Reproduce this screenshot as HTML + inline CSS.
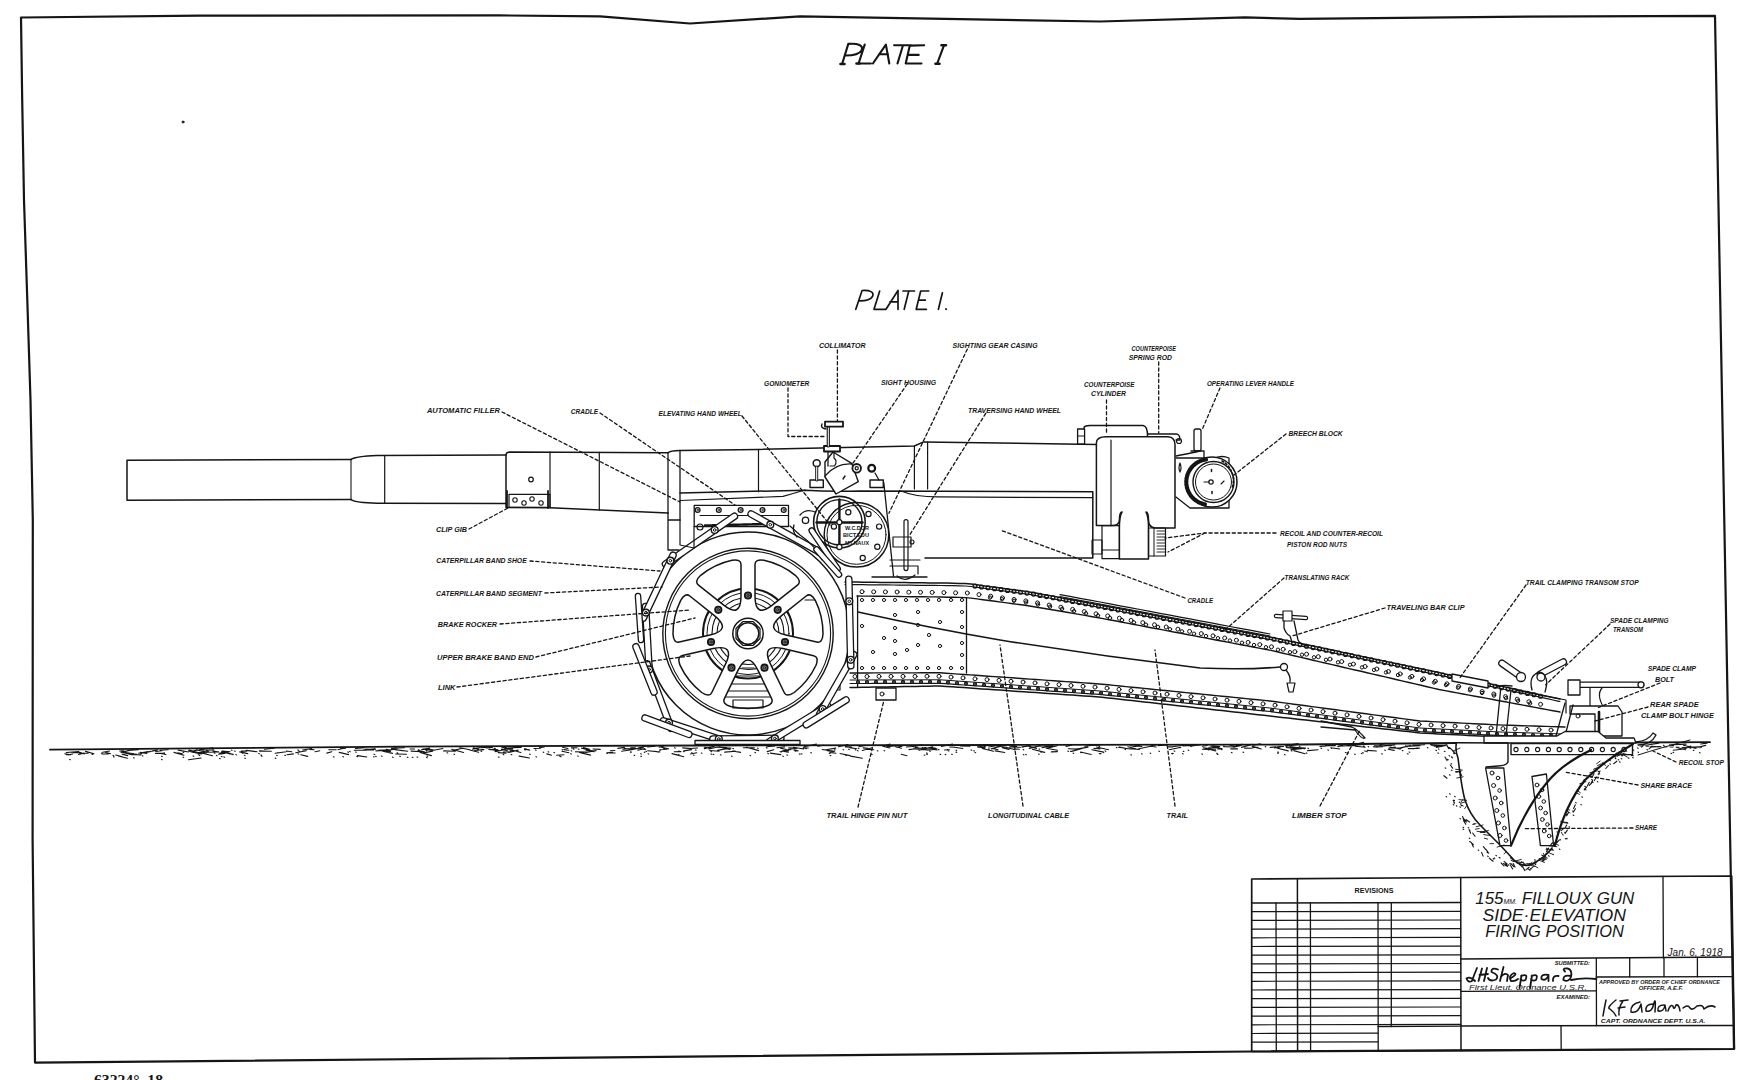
<!DOCTYPE html>
<html><head><meta charset="utf-8"><title>155mm Filloux Gun - Side Elevation</title>
<style>
html,body{margin:0;padding:0;background:#fff;width:1756px;height:1080px;overflow:hidden}
svg{display:block}
svg text{font-family:"Liberation Sans",sans-serif}
.label{font-weight:bold;font-style:italic}
.plate{font-style:italic}
.serif{font-family:"Liberation Serif",serif !important;font-weight:bold}
</style></head><body>
<svg width="1756" height="1080" viewBox="0 0 1756 1080">
<g stroke="#151515" stroke-linecap="round" stroke-linejoin="round" fill="none">
<polyline points="21,17.5 200,15.7 500,15.4 600,16.4 690,23.5 800,16.4 1100,21.5 1245,17.4 1300,18.8 1500,16.8 1715,15.8 1734,1049 1252,1051.5 35,1062.6 32.6,840 32.8,520 30.5,400 27.3,300 24,200 22.2,100 21,17.5" stroke-width="2.2" fill="none" />
<circle cx="183" cy="122" r="1" stroke-width="1.0" fill="#333" />
<path d="M842.2,63.7 L848.3,43.9 C858,43 864,45.5 861.5,50.5 Q858.5,55.5 845.6,55.5 M864.7,44.6 L858.6,63.5 L870.9,63.5 M872.9,63.5 L885.9,44.6 L889.3,63.5 M879,54.2 L888,54.2 M894.1,45.3 L911.2,45.3 M903,45.3 L897.5,63.5 M924.2,45.3 L909.8,45.6 L905.7,63.5 L921.5,63.5 M907.8,54.9 L918.7,54.9 M944,45.3 L937.2,63.5" stroke-width="2.1" fill="none" />
<path d="M840.5,64 L844.5,64 M856.5,63.5 L859.5,63.5 M935.5,63.8 L939.5,63.8 M941.5,45.3 L946,45.3" stroke-width="2.6" fill="none" />
<path d="M855.8,309.3 L862.1,290.5 C870,290 874.5,292 872.5,296.5 Q870,300.8 859.8,300.8 M879.7,291 L874,309.3 L885.4,309.3 M886,309.3 L898,290.5 L898,309.3 M890,301.9 L898,301.9 M903,291 L914.5,291 M908.8,291 L904.2,309.3 M928.7,291 L920.7,291 L916.2,309.3 L926.4,309.3 M918.5,300.2 L925.3,300.2 M942.4,292.8 L938.4,309.3 M945.8,309 L946.3,309.3" stroke-width="1.7" fill="none" />
<text x="94" y="1085" class="serif" font-size="15" stroke="none" fill="#151515" textLength="69" lengthAdjust="spacingAndGlyphs" >63224°–18</text>
<path d="M351,459.5 L127,460.3 L127,500.2 L351,499.6" stroke-width="1.5" fill="none" />
<path d="M351,459.5 Q356,456.2 377,455.5 L506,455 M351,499.6 Q356,502.8 377,503.2 L506,503.6" stroke-width="1.5" fill="none" />
<line x1="351" y1="459.5" x2="351" y2="499.6" stroke-width="1.1" />
<line x1="384.7" y1="455.5" x2="384.7" y2="503.2" stroke-width="1.2" />
<path d="M506,503.6 L506,455 Q506,452 510,451.9 L668,452.8" stroke-width="1.5" fill="none" />
<path d="M506,503.6 L506,507.6 L550,507.8 L668,513" stroke-width="1.5" fill="none" />
<line x1="550" y1="452" x2="550" y2="507.8" stroke-width="1.2" />
<line x1="599.3" y1="452.4" x2="599.3" y2="510" stroke-width="1.2" />
<line x1="668" y1="452.8" x2="668" y2="513" stroke-width="1.3" />
<rect x="509" y="494.3" width="41" height="13" rx="0" stroke-width="1.2" fill="none" />
<line x1="507" y1="491" x2="507" y2="508" stroke-width="1.8" />
<line x1="548" y1="491" x2="548" y2="508" stroke-width="1.8" />
<circle cx="515" cy="500" r="2.2" stroke-width="1.1" fill="none" />
<circle cx="524" cy="503" r="2.2" stroke-width="1.1" fill="none" />
<circle cx="532" cy="499" r="2.2" stroke-width="1.1" fill="none" />
<circle cx="541" cy="503" r="2.2" stroke-width="1.1" fill="none" />
<circle cx="531" cy="479.5" r="2.3" stroke-width="1.2" fill="none" />
<path d="M668,452.8 Q670,450.5 680,450.4 L758,449.4 L914.4,446 L923.5,441.9 L1096.4,444.4" stroke-width="1.5" fill="none" />
<line x1="680" y1="450.4" x2="680" y2="520" stroke-width="1.3" />
<line x1="758.5" y1="449.4" x2="758.5" y2="491.8" stroke-width="1.2" />
<line x1="914.4" y1="446" x2="914.4" y2="489" stroke-width="1.2" />
<line x1="927.6" y1="442" x2="927.6" y2="489" stroke-width="1.2" />
<path d="M680,493 L805,490.2 Q830,492 860,491 L1092.8,491.8 L1092.8,558 L925,558" stroke-width="1.5" fill="none" />
<path d="M901,491 Q915,496.9 937.8,496.9 L1092.8,497.7" stroke-width="1.3" fill="none" />
<path d="M668,513 L668,550 L679,550 M668,520 L680,520" stroke-width="1.3" fill="none" />
<rect x="694.2" y="505.3" width="94.3" height="21.2" rx="0" stroke-width="1.3" fill="none" />
<line x1="700" y1="515.5" x2="788" y2="515.5" stroke-width="1.1" />
<circle cx="697.6" cy="510" r="2.4" stroke-width="1.3" fill="none" />
<circle cx="697.6" cy="510" r="0.8" stroke-width="0.8" fill="none" />
<circle cx="718.8" cy="510" r="2.4" stroke-width="1.3" fill="none" />
<circle cx="718.8" cy="510" r="0.8" stroke-width="0.8" fill="none" />
<circle cx="740.6" cy="510" r="2.4" stroke-width="1.3" fill="none" />
<circle cx="740.6" cy="510" r="0.8" stroke-width="0.8" fill="none" />
<circle cx="762.5" cy="510" r="2.4" stroke-width="1.3" fill="none" />
<circle cx="762.5" cy="510" r="0.8" stroke-width="0.8" fill="none" />
<circle cx="783.7" cy="510" r="2.4" stroke-width="1.3" fill="none" />
<circle cx="783.7" cy="510" r="0.8" stroke-width="0.8" fill="none" />
<line x1="705" y1="525.5" x2="765" y2="524" stroke-width="2.4" stroke-dasharray="3 1"/>
<circle cx="700" cy="527" r="3" stroke-width="1.2" fill="none" />
<path d="M1084,444 L1084,428 Q1084,425.6 1090,425.6 L1143,425.6 Q1147.6,426 1147.6,436.7" stroke-width="1.5" fill="none" />
<rect x="1077.6" y="429" width="7" height="15" rx="0" stroke-width="1.3" fill="#fff" />
<line x1="1078" y1="436" x2="1084" y2="436" stroke-width="1.1" />
<path d="M1147.6,434 L1176,434 Q1180,434 1180,440 L1176,440" stroke-width="1.3" fill="none" />
<circle cx="1179" cy="441" r="2.5" stroke-width="1.2" fill="none" />
<path d="M1096.4,525.6 L1096.4,443 Q1096.4,436.7 1106,436.7 L1168,436.7 Q1175,437 1175,445 L1175,528 L1156,528 Q1148.5,528 1148.5,520 Q1148.5,512 1146,512 Q1148.5,516 1148.5,528 L1148.5,559 L1119.4,559 L1119.4,528 Q1119.4,516 1122,512 Q1119.4,512 1119.4,520 Q1119,525.6 1112,525.6 Z" stroke-width="1.5" fill="#fff" />
<line x1="1111" y1="440" x2="1111" y2="525.6" stroke-width="1.2" />
<rect x="1102" y="525.6" width="17.4" height="33" rx="0" stroke-width="1.2" fill="none" />
<line x1="1102" y1="550" x2="1119.4" y2="550" stroke-width="1.1" />
<rect x="1092" y="540" width="10" height="14" rx="0" stroke-width="1.1" fill="none" />
<rect x="1148.5" y="528" width="17" height="28" rx="0" stroke-width="1.2" fill="none" />
<line x1="1157" y1="531" x2="1165" y2="531" stroke-width="0.9" />
<line x1="1157" y1="534" x2="1165" y2="534" stroke-width="0.9" />
<line x1="1157" y1="537" x2="1165" y2="537" stroke-width="0.9" />
<line x1="1157" y1="540" x2="1165" y2="540" stroke-width="0.9" />
<line x1="1157" y1="543" x2="1165" y2="543" stroke-width="0.9" />
<line x1="1157" y1="546" x2="1165" y2="546" stroke-width="0.9" />
<line x1="1157" y1="549" x2="1165" y2="549" stroke-width="0.9" />
<line x1="1157" y1="552" x2="1165" y2="552" stroke-width="0.9" />
<line x1="1154" y1="528" x2="1154" y2="556" stroke-width="1" />
<path d="M1176,458 L1215,458 Q1222,455 1229,458 L1229,508 L1190,508 L1176,497" stroke-width="1.3" fill="none" />
<path d="M1176,456 Q1196,452 1200,451" stroke-width="1.3" fill="none" />
<circle cx="1212" cy="482" r="25" stroke-width="1.5" fill="#fff" />
<circle cx="1213.5" cy="482" r="20.5" stroke-width="1.4" fill="none" />
<circle cx="1213.5" cy="482" r="18" stroke-width="1.0" fill="none" />
<path d="M1206,459.5 A22.7,22.7 0 0,0 1206,504.5" stroke-width="4.2" fill="none" stroke-dasharray="1.8 1.3"/>
<path d="M1222,461 A22,22 0 0,1 1232,488" stroke-width="1.6" fill="none" stroke-dasharray="2 2"/>
<circle cx="1211" cy="482" r="2.2" stroke-width="1.2" fill="none" />
<line x1="1204" y1="482" x2="1209" y2="482" stroke-width="1.1" />
<line x1="1211.5" y1="469.5" x2="1211.5" y2="471.5" stroke-width="1.5" />
<line x1="1212" y1="491.5" x2="1212" y2="493.5" stroke-width="1.5" />
<line x1="1221" y1="484" x2="1224" y2="481" stroke-width="1.1" />
<path d="M1180,463 Q1178,468 1180,472 Q1182,468 1180,463" stroke-width="1.2" fill="none" />
<rect x="1194" y="429" width="7" height="22" rx="2" stroke-width="1.3" fill="none" />
<path d="M1191,451 L1204,451 L1204,458" stroke-width="1.3" fill="none" />
<polyline points="845,582 851,582.1 857,582.1 863,582.2 869,582.3 875,582.3 881,582.4 887,582.4 893,582.5 899,582.6 905,582.6 911,582.7 917,582.8 923,582.8 929,582.9 935,582.9 941,583 947,583.1 953,583.2 959,583.4 965,583.5 971,584 977,584.8 983,585.7 989,586.5 995,587.3 1001,588.1 1007,588.9 1013,589.7 1019,590.5 1025,591.3 1031,592.2 1037,593.3 1043,594.4 1049,595.5 1055,596.6 1061,597.8 1067,598.9 1073,600 1079,601.1 1085,602.2 1091,603.3 1097,604.4 1103,605.6 1109,606.7 1115,607.8 1121,609 1127,610.1 1133,611.2 1139,612.3 1145,613.5 1151,614.6 1157,615.7 1163,616.9 1169,618 1175,619.1 1181,620.2 1187,621.4 1193,622.5 1199,623.6 1205,624.8 1211,625.9 1217,627 1223,628.2 1229,629.3 1235,630.4 1241,631.5 1247,632.7 1253,633.8 1259,634.9 1265,636.1 1271,637.2 1277,638.5 1283,639.7 1289,641 1295,642.3 1301,643.5 1307,644.8 1313,646.1 1319,647.3 1325,648.6 1331,649.8 1337,651.1 1343,652.4 1349,653.6 1355,654.9 1361,656.2 1367,657.4 1373,658.7 1379,660 1385,661.2 1391,662.5 1397,663.7 1403,665 1409,666.3 1415,667.5 1421,668.8 1427,670.1 1433,671.3 1439,672.6 1445,673.9 1451,675.2 1457,676.5 1463,677.8 1469,679.1 1475,680.4 1481,681.8 1487,683.1 1493,684.4 1499,685.7 1505,687 1511,688.3 1517,689.6 1523,690.9 1529,692.2 1535,693.5 1541,694.9 1547,696.2 1553,697.5 1559,698.8 1560,699" stroke-width="1.5" fill="none" />
<polyline points="845,584.5 851,584.6 857,584.6 863,584.7 869,584.8 875,584.8 881,584.9 887,584.9 893,585 899,585.1 905,585.1 911,585.2 917,585.3 923,585.3 929,585.4 935,585.4 941,585.5 947,585.6 953,585.7 959,585.9 965,586 971,586.5 977,587.3 983,588.2 989,589 995,589.8 1001,590.6 1007,591.4 1013,592.2 1019,593 1025,593.8 1031,594.7 1037,595.8 1043,596.9 1049,598 1055,599.1 1061,600.3 1067,601.4 1073,602.5 1079,603.6 1085,604.7 1091,605.8 1097,606.9 1103,608.1 1109,609.2 1115,610.3 1121,611.5 1127,612.6 1133,613.7 1139,614.8 1145,616 1151,617.1 1157,618.2 1163,619.4 1169,620.5 1175,621.6 1181,622.7 1187,623.9 1193,625 1199,626.1 1205,627.3 1211,628.4 1217,629.5 1223,630.7 1229,631.8 1235,632.9 1241,634 1247,635.2 1253,636.3 1259,637.4 1265,638.6 1271,639.7 1277,641 1283,642.2 1289,643.5 1295,644.8 1301,646 1307,647.3 1313,648.6 1319,649.8 1325,651.1 1331,652.3 1337,653.6 1343,654.9 1349,656.1 1355,657.4 1361,658.7 1367,659.9 1373,661.2 1379,662.5 1385,663.7 1391,665 1397,666.2 1403,667.5 1409,668.8 1415,670 1421,671.3 1427,672.6 1433,673.8 1439,675.1 1445,676.4 1451,677.7 1457,679 1463,680.3 1469,681.6 1475,682.9 1481,684.3 1487,685.6 1493,686.9 1499,688.2 1505,689.5 1511,690.8 1517,692.1 1523,693.4 1529,694.7 1535,696 1541,697.4 1547,698.7 1553,700 1559,701.3 1560,701.5" stroke-width="1.2" fill="none" />
<polyline points="857,596 863,596.1 869,596.1 875,596.2 881,596.3 887,596.4 893,596.4 899,596.5 905,596.6 911,596.7 917,596.7 923,596.8 929,596.9 935,596.9 941,597 947,597.2 953,597.3 959,597.4 965,597.6 971,598.1 977,598.9 983,599.7 989,600.5 995,601.3 1001,602.1 1007,602.9 1013,603.7 1019,604.5 1025,605.3 1031,606.2 1037,607.2 1043,608.2 1049,609.3 1055,610.3 1061,611.3 1067,612.3 1073,613.4 1079,614.4 1085,615.4 1091,616.5 1097,617.5 1103,618.6 1109,619.7 1115,620.8 1121,622 1127,623.1 1133,624.3 1139,625.4 1145,626.5 1151,627.7 1157,628.8 1163,629.9 1169,631.1 1175,632.2 1181,633.3 1187,634.5 1193,635.6 1199,636.8 1205,637.9 1211,639 1217,640.2 1223,641.3 1229,642.4 1235,643.6 1241,644.7 1247,645.8 1253,647 1259,648.1 1265,649.3 1271,650.4 1277,651.8 1283,653.2 1289,654.6 1295,656 1301,657.4 1307,658.8 1313,660.2 1319,661.6 1325,663 1331,664.4 1337,665.8 1343,667.2 1349,668.6 1355,670 1361,671.3 1367,672.7 1373,674.1 1379,675.5 1385,676.9 1391,678.3 1397,679.7 1403,681.1 1409,682.5 1415,683.9 1421,685.3 1427,686.7 1433,688.1 1439,689.5 1445,690.6 1451,691.7 1457,692.9 1463,694 1469,695.1 1475,696.2 1481,697.3 1487,698.4 1493,699.5 1499,700.7 1505,701.8 1511,702.9 1517,704 1523,705.1 1529,706.2 1535,707.4 1541,708.5 1547,709.6 1553,710.7 1559,711.8 1560,712" stroke-width="1.4" fill="none" />
<polyline points="850,673 856,673 862,673 868,673 874,672.9 880,672.9 886,672.9 892,672.9 898,672.9 904,672.9 910,672.9 916,672.9 922,672.8 928,672.8 934,672.8 940,672.8 946,673.2 952,673.6 958,674.1 964,674.5 970,674.9 976,675.3 982,675.7 988,676.2 994,676.6 1000,677 1006,677.4 1012,677.8 1018,678.3 1024,678.7 1030,679.1 1036,679.5 1042,679.9 1048,680.4 1054,680.8 1060,681.2 1066,681.6 1072,682 1078,682.5 1084,682.9 1090,683.3 1096,683.7 1102,684.2 1108,684.8 1114,685.4 1120,686 1126,686.6 1132,687.2 1138,687.8 1144,688.4 1150,689 1156,689.6 1162,690.2 1168,690.8 1174,691.4 1180,692 1186,692.6 1192,693.2 1198,693.8 1204,694.4 1210,695 1216,695.6 1222,696.2 1228,696.8 1234,697.4 1240,698 1246,698.6 1252,699.2 1258,699.8 1264,700.4 1270,701 1276,701.8 1282,702.6 1288,703.4 1294,704.2 1300,705 1306,705.8 1312,706.6 1318,707.4 1324,708.2 1330,709 1336,709.8 1342,710.6 1348,711.4 1354,712.2 1360,713 1366,713.8 1372,714.6 1378,715.4 1384,716.2 1390,717 1396,717.8 1402,718.6 1408,719.4 1414,720.2 1420,721 1426,721.3 1432,721.6 1438,721.9 1444,722.2 1450,722.5 1456,722.8 1462,723.1 1468,723.4 1474,723.7 1480,724 1486,724.3 1492,724.6 1498,724.9 1504,725.1 1510,725.3 1516,725.5 1522,725.7 1528,725.9 1534,726 1540,726.2 1546,726.4 1552,726.6 1558,726.8 1564,727 1565,727" stroke-width="1.4" fill="none" />
<polyline points="850,687.5 856,687.4 862,687.3 868,687.2 874,687.1 880,687 886,686.9 892,686.8 898,686.7 904,686.6 910,686.5 916,686.4 922,686.3 928,686.2 934,686.1 940,686 946,686.4 952,686.8 958,687.2 964,687.6 970,688.1 976,688.5 982,688.9 988,689.3 994,689.7 1000,690.1 1006,690.5 1012,691 1018,691.4 1024,691.8 1030,692.2 1036,692.6 1042,693 1048,693.4 1054,693.8 1060,694.2 1066,694.7 1072,695.1 1078,695.5 1084,695.9 1090,696.3 1096,696.7 1102,697.2 1108,697.9 1114,698.6 1120,699.2 1126,699.9 1132,700.6 1138,701.2 1144,701.9 1150,702.6 1156,703.3 1162,703.9 1168,704.6 1174,705.3 1180,705.9 1186,706.6 1192,707.3 1198,708 1204,708.6 1210,709.3 1216,710 1222,710.6 1228,711.3 1234,712 1240,712.6 1246,713.3 1252,714 1258,714.7 1264,715.3 1270,716 1276,716.7 1282,717.4 1288,718 1294,718.7 1300,719.4 1306,720.1 1312,720.8 1318,721.4 1324,722.1 1330,722.8 1336,723.5 1342,724.2 1348,724.8 1354,725.5 1360,726.2 1366,726.9 1372,727.6 1378,728.2 1384,728.9 1390,729.6 1396,730.3 1402,731 1408,731.6 1414,732.3 1420,733 1426,733.3 1432,733.6 1438,733.9 1444,734.2 1450,734.5 1456,734.8 1462,735.1 1468,735.4 1474,735.7 1480,736 1486,736.3 1492,736.6 1498,736.9 1504,737.1 1510,737.3 1516,737.5 1522,737.7 1528,737.9 1534,738 1540,738.2 1546,738.4 1552,738.6 1558,738.8 1564,739 1565,739" stroke-width="1.5" fill="none" />
<line x1="966.5" y1="597.6" x2="966.5" y2="673" stroke-width="1.3" />
<line x1="857.6" y1="596" x2="857.6" y2="687" stroke-width="1.3" />
<circle cx="862" cy="600" r="1.6" stroke-width="1.0" fill="none" />
<circle cx="873" cy="600" r="1.6" stroke-width="1.0" fill="none" />
<circle cx="884" cy="600" r="1.6" stroke-width="1.0" fill="none" />
<circle cx="895" cy="600" r="1.6" stroke-width="1.0" fill="none" />
<circle cx="906" cy="600" r="1.6" stroke-width="1.0" fill="none" />
<circle cx="917" cy="600" r="1.6" stroke-width="1.0" fill="none" />
<circle cx="928" cy="600" r="1.6" stroke-width="1.0" fill="none" />
<circle cx="939" cy="600" r="1.6" stroke-width="1.0" fill="none" />
<circle cx="951" cy="600" r="1.6" stroke-width="1.0" fill="none" />
<circle cx="962" cy="600" r="1.6" stroke-width="1.0" fill="none" />
<circle cx="862" cy="668" r="1.6" stroke-width="1.0" fill="none" />
<circle cx="873" cy="668" r="1.6" stroke-width="1.0" fill="none" />
<circle cx="884" cy="668" r="1.6" stroke-width="1.0" fill="none" />
<circle cx="895" cy="668" r="1.6" stroke-width="1.0" fill="none" />
<circle cx="906" cy="668" r="1.6" stroke-width="1.0" fill="none" />
<circle cx="917" cy="668" r="1.6" stroke-width="1.0" fill="none" />
<circle cx="928" cy="668" r="1.6" stroke-width="1.0" fill="none" />
<circle cx="939" cy="668" r="1.6" stroke-width="1.0" fill="none" />
<circle cx="951" cy="668" r="1.6" stroke-width="1.0" fill="none" />
<circle cx="962" cy="668" r="1.6" stroke-width="1.0" fill="none" />
<circle cx="895" cy="615" r="1.6" stroke-width="1.0" fill="none" />
<circle cx="895" cy="628" r="1.6" stroke-width="1.0" fill="none" />
<circle cx="895" cy="641" r="1.6" stroke-width="1.0" fill="none" />
<circle cx="895" cy="654" r="1.6" stroke-width="1.0" fill="none" />
<circle cx="918" cy="612" r="1.6" stroke-width="1.0" fill="none" />
<circle cx="918" cy="625" r="1.6" stroke-width="1.0" fill="none" />
<circle cx="918" cy="645" r="1.6" stroke-width="1.0" fill="none" />
<circle cx="940" cy="622" r="1.6" stroke-width="1.0" fill="none" />
<circle cx="940" cy="646" r="1.6" stroke-width="1.0" fill="none" />
<circle cx="962" cy="612" r="1.6" stroke-width="1.0" fill="none" />
<circle cx="962" cy="627" r="1.6" stroke-width="1.0" fill="none" />
<circle cx="962" cy="643" r="1.6" stroke-width="1.0" fill="none" />
<circle cx="962" cy="655" r="1.6" stroke-width="1.0" fill="none" />
<circle cx="862" cy="626" r="1.6" stroke-width="1.0" fill="none" />
<circle cx="873" cy="652" r="1.6" stroke-width="1.0" fill="none" />
<circle cx="884" cy="638" r="1.6" stroke-width="1.0" fill="none" />
<circle cx="907" cy="650" r="1.6" stroke-width="1.0" fill="none" />
<circle cx="929" cy="635" r="1.6" stroke-width="1.0" fill="none" />
<circle cx="862" cy="591.7" r="2" stroke-width="1.0" fill="none" />
<circle cx="873.7" cy="591.8" r="2" stroke-width="1.0" fill="none" />
<circle cx="885.4" cy="591.9" r="2" stroke-width="1.0" fill="none" />
<circle cx="897.1" cy="592" r="2" stroke-width="1.0" fill="none" />
<circle cx="908.8" cy="592.2" r="2" stroke-width="1.0" fill="none" />
<circle cx="920.5" cy="592.3" r="2" stroke-width="1.0" fill="none" />
<circle cx="932.2" cy="592.4" r="2" stroke-width="1.0" fill="none" />
<circle cx="943.9" cy="592.6" r="2" stroke-width="1.0" fill="none" />
<circle cx="955.6" cy="592.8" r="2" stroke-width="1.0" fill="none" />
<circle cx="967.3" cy="593" r="2" stroke-width="1.0" fill="none" />
<circle cx="979" cy="594.6" r="2" stroke-width="1.0" fill="none" />
<circle cx="990.7" cy="596.2" r="2" stroke-width="1.0" fill="none" />
<circle cx="1002.4" cy="597.8" r="2" stroke-width="1.0" fill="none" />
<circle cx="1014.1" cy="599.4" r="2" stroke-width="1.0" fill="none" />
<circle cx="1025.8" cy="600.9" r="2" stroke-width="1.0" fill="none" />
<circle cx="1037.5" cy="602.9" r="2" stroke-width="1.0" fill="none" />
<circle cx="1049.2" cy="605.1" r="2" stroke-width="1.0" fill="none" />
<circle cx="1060.9" cy="607.2" r="2" stroke-width="1.0" fill="none" />
<circle cx="1072.6" cy="609.4" r="2" stroke-width="1.0" fill="none" />
<circle cx="1084.3" cy="611.6" r="2" stroke-width="1.0" fill="none" />
<circle cx="1096" cy="613.8" r="2" stroke-width="1.0" fill="none" />
<circle cx="1107.7" cy="615.9" r="2" stroke-width="1.0" fill="none" />
<circle cx="1119.4" cy="618.2" r="2" stroke-width="1.0" fill="none" />
<circle cx="1131.1" cy="620.4" r="2" stroke-width="1.0" fill="none" />
<circle cx="1142.8" cy="622.6" r="2" stroke-width="1.0" fill="none" />
<circle cx="1154.5" cy="624.8" r="2" stroke-width="1.0" fill="none" />
<circle cx="1166.2" cy="627" r="2" stroke-width="1.0" fill="none" />
<circle cx="1177.9" cy="629.2" r="2" stroke-width="1.0" fill="none" />
<circle cx="1189.6" cy="631.4" r="2" stroke-width="1.0" fill="none" />
<circle cx="1201.3" cy="633.6" r="2" stroke-width="1.0" fill="none" />
<circle cx="1213" cy="635.8" r="2" stroke-width="1.0" fill="none" />
<circle cx="1224.7" cy="638" r="2" stroke-width="1.0" fill="none" />
<circle cx="1236.4" cy="640.2" r="2" stroke-width="1.0" fill="none" />
<circle cx="1248.1" cy="642.4" r="2" stroke-width="1.0" fill="none" />
<circle cx="1259.8" cy="644.6" r="2" stroke-width="1.0" fill="none" />
<circle cx="1271.5" cy="646.8" r="2" stroke-width="1.0" fill="none" />
<circle cx="1283.2" cy="649.3" r="2" stroke-width="1.0" fill="none" />
<circle cx="1294.9" cy="651.7" r="2" stroke-width="1.0" fill="none" />
<circle cx="1306.6" cy="654.2" r="2" stroke-width="1.0" fill="none" />
<circle cx="1318.3" cy="656.7" r="2" stroke-width="1.0" fill="none" />
<circle cx="1330" cy="659.1" r="2" stroke-width="1.0" fill="none" />
<circle cx="1341.7" cy="661.6" r="2" stroke-width="1.0" fill="none" />
<circle cx="1353.4" cy="664.1" r="2" stroke-width="1.0" fill="none" />
<circle cx="1365.1" cy="666.5" r="2" stroke-width="1.0" fill="none" />
<circle cx="1376.8" cy="669" r="2" stroke-width="1.0" fill="none" />
<circle cx="1388.5" cy="671.5" r="2" stroke-width="1.0" fill="none" />
<circle cx="1400.2" cy="673.9" r="2" stroke-width="1.0" fill="none" />
<circle cx="1411.9" cy="676.4" r="2" stroke-width="1.0" fill="none" />
<circle cx="1423.6" cy="678.8" r="2" stroke-width="1.0" fill="none" />
<circle cx="1435.3" cy="681.3" r="2" stroke-width="1.0" fill="none" />
<circle cx="1447" cy="683.8" r="2" stroke-width="1.0" fill="none" />
<circle cx="1458.7" cy="686.4" r="2" stroke-width="1.0" fill="none" />
<circle cx="1470.4" cy="688.9" r="2" stroke-width="1.0" fill="none" />
<circle cx="1482.1" cy="691.5" r="2" stroke-width="1.0" fill="none" />
<circle cx="1493.8" cy="694" r="2" stroke-width="1.0" fill="none" />
<circle cx="1505.5" cy="696.6" r="2" stroke-width="1.0" fill="none" />
<circle cx="1517.2" cy="699.2" r="2" stroke-width="1.0" fill="none" />
<circle cx="1528.9" cy="701.7" r="2" stroke-width="1.0" fill="none" />
<circle cx="1540.6" cy="704.3" r="2" stroke-width="1.0" fill="none" />
<circle cx="990" cy="597.6" r="1.7" stroke-width="1.0" fill="none" />
<circle cx="1002" cy="599.2" r="1.7" stroke-width="1.0" fill="none" />
<circle cx="1014" cy="600.8" r="1.7" stroke-width="1.0" fill="none" />
<circle cx="1026" cy="602.5" r="1.7" stroke-width="1.0" fill="none" />
<circle cx="1038" cy="604.5" r="1.7" stroke-width="1.0" fill="none" />
<circle cx="1050" cy="606.7" r="1.7" stroke-width="1.0" fill="none" />
<circle cx="1062" cy="608.9" r="1.7" stroke-width="1.0" fill="none" />
<circle cx="1074" cy="611.2" r="1.7" stroke-width="1.0" fill="none" />
<circle cx="1086" cy="613.4" r="1.7" stroke-width="1.0" fill="none" />
<circle cx="1098" cy="615.6" r="1.7" stroke-width="1.0" fill="none" />
<circle cx="1110" cy="617.9" r="1.7" stroke-width="1.0" fill="none" />
<circle cx="1122" cy="620.1" r="1.7" stroke-width="1.0" fill="none" />
<circle cx="1134" cy="622.4" r="1.7" stroke-width="1.0" fill="none" />
<circle cx="1146" cy="624.7" r="1.7" stroke-width="1.0" fill="none" />
<circle cx="1158" cy="626.9" r="1.7" stroke-width="1.0" fill="none" />
<circle cx="1170" cy="629.2" r="1.7" stroke-width="1.0" fill="none" />
<circle cx="1182" cy="631.4" r="1.7" stroke-width="1.0" fill="none" />
<circle cx="1194" cy="633.7" r="1.7" stroke-width="1.0" fill="none" />
<circle cx="1206" cy="636" r="1.7" stroke-width="1.0" fill="none" />
<circle cx="1218" cy="638.2" r="1.7" stroke-width="1.0" fill="none" />
<circle cx="1230" cy="640.5" r="1.7" stroke-width="1.0" fill="none" />
<circle cx="1242" cy="642.7" r="1.7" stroke-width="1.0" fill="none" />
<circle cx="1254" cy="645" r="1.7" stroke-width="1.0" fill="none" />
<circle cx="1266" cy="647.2" r="1.7" stroke-width="1.0" fill="none" />
<circle cx="1278" cy="649.7" r="1.7" stroke-width="1.0" fill="none" />
<circle cx="1290" cy="652.2" r="1.7" stroke-width="1.0" fill="none" />
<circle cx="1302" cy="654.7" r="1.7" stroke-width="1.0" fill="none" />
<circle cx="1314" cy="657.3" r="1.7" stroke-width="1.0" fill="none" />
<circle cx="1326" cy="659.8" r="1.7" stroke-width="1.0" fill="none" />
<circle cx="1338" cy="662.3" r="1.7" stroke-width="1.0" fill="none" />
<circle cx="1350" cy="664.8" r="1.7" stroke-width="1.0" fill="none" />
<circle cx="1362" cy="667.4" r="1.7" stroke-width="1.0" fill="none" />
<circle cx="1374" cy="669.9" r="1.7" stroke-width="1.0" fill="none" />
<circle cx="1386" cy="672.4" r="1.7" stroke-width="1.0" fill="none" />
<circle cx="1398" cy="675" r="1.7" stroke-width="1.0" fill="none" />
<circle cx="1410" cy="677.5" r="1.7" stroke-width="1.0" fill="none" />
<circle cx="1422" cy="680" r="1.7" stroke-width="1.0" fill="none" />
<circle cx="1434" cy="682.5" r="1.7" stroke-width="1.0" fill="none" />
<circle cx="1446" cy="685.1" r="1.7" stroke-width="1.0" fill="none" />
<circle cx="1458" cy="687.7" r="1.7" stroke-width="1.0" fill="none" />
<circle cx="1470" cy="690.3" r="1.7" stroke-width="1.0" fill="none" />
<circle cx="1482" cy="693" r="1.7" stroke-width="1.0" fill="none" />
<circle cx="1494" cy="695.6" r="1.7" stroke-width="1.0" fill="none" />
<circle cx="1506" cy="698.2" r="1.7" stroke-width="1.0" fill="none" />
<circle cx="1518" cy="700.8" r="1.7" stroke-width="1.0" fill="none" />
<circle cx="1530" cy="703.5" r="1.7" stroke-width="1.0" fill="none" />
<circle cx="975" cy="586.1" r="1.9" stroke-width="1.3" fill="none" />
<circle cx="981.5" cy="587" r="1.9" stroke-width="1.3" fill="none" />
<circle cx="988" cy="587.8" r="1.9" stroke-width="1.3" fill="none" />
<circle cx="994.5" cy="588.7" r="1.9" stroke-width="1.3" fill="none" />
<circle cx="1001" cy="589.6" r="1.9" stroke-width="1.3" fill="none" />
<circle cx="1007.5" cy="590.5" r="1.9" stroke-width="1.3" fill="none" />
<circle cx="1014" cy="591.3" r="1.9" stroke-width="1.3" fill="none" />
<circle cx="1020.5" cy="592.2" r="1.9" stroke-width="1.3" fill="none" />
<circle cx="1027" cy="593.1" r="1.9" stroke-width="1.3" fill="none" />
<circle cx="1033.5" cy="594.1" r="1.9" stroke-width="1.3" fill="none" />
<circle cx="1040" cy="595.4" r="1.9" stroke-width="1.3" fill="none" />
<circle cx="1046.5" cy="596.6" r="1.9" stroke-width="1.3" fill="none" />
<circle cx="1053" cy="597.8" r="1.9" stroke-width="1.3" fill="none" />
<circle cx="1059.5" cy="599" r="1.9" stroke-width="1.3" fill="none" />
<circle cx="1066" cy="600.2" r="1.9" stroke-width="1.3" fill="none" />
<circle cx="1072.5" cy="601.4" r="1.9" stroke-width="1.3" fill="none" />
<circle cx="1079" cy="602.6" r="1.9" stroke-width="1.3" fill="none" />
<circle cx="1085.5" cy="603.8" r="1.9" stroke-width="1.3" fill="none" />
<circle cx="1092" cy="605" r="1.9" stroke-width="1.3" fill="none" />
<circle cx="1098.5" cy="606.2" r="1.9" stroke-width="1.3" fill="none" />
<circle cx="1105" cy="607.4" r="1.9" stroke-width="1.3" fill="none" />
<circle cx="1111.5" cy="608.7" r="1.9" stroke-width="1.3" fill="none" />
<circle cx="1118" cy="609.9" r="1.9" stroke-width="1.3" fill="none" />
<circle cx="1124.5" cy="611.1" r="1.9" stroke-width="1.3" fill="none" />
<circle cx="1131" cy="612.3" r="1.9" stroke-width="1.3" fill="none" />
<circle cx="1137.5" cy="613.6" r="1.9" stroke-width="1.3" fill="none" />
<circle cx="1144" cy="614.8" r="1.9" stroke-width="1.3" fill="none" />
<circle cx="1150.5" cy="616" r="1.9" stroke-width="1.3" fill="none" />
<circle cx="1157" cy="617.2" r="1.9" stroke-width="1.3" fill="none" />
<circle cx="1163.5" cy="618.5" r="1.9" stroke-width="1.3" fill="none" />
<circle cx="1170" cy="619.7" r="1.9" stroke-width="1.3" fill="none" />
<circle cx="1176.5" cy="620.9" r="1.9" stroke-width="1.3" fill="none" />
<circle cx="1183" cy="622.1" r="1.9" stroke-width="1.3" fill="none" />
<circle cx="1189.5" cy="623.3" r="1.9" stroke-width="1.3" fill="none" />
<circle cx="1196" cy="624.6" r="1.9" stroke-width="1.3" fill="none" />
<circle cx="1202.5" cy="625.8" r="1.9" stroke-width="1.3" fill="none" />
<circle cx="1209" cy="627" r="1.9" stroke-width="1.3" fill="none" />
<circle cx="1215.5" cy="628.2" r="1.9" stroke-width="1.3" fill="none" />
<circle cx="1222" cy="629.5" r="1.9" stroke-width="1.3" fill="none" />
<circle cx="1228.5" cy="630.7" r="1.9" stroke-width="1.3" fill="none" />
<circle cx="1235" cy="631.9" r="1.9" stroke-width="1.3" fill="none" />
<circle cx="1241.5" cy="633.1" r="1.9" stroke-width="1.3" fill="none" />
<circle cx="1248" cy="634.4" r="1.9" stroke-width="1.3" fill="none" />
<circle cx="1254.5" cy="635.6" r="1.9" stroke-width="1.3" fill="none" />
<circle cx="1261" cy="636.8" r="1.9" stroke-width="1.3" fill="none" />
<circle cx="1267.5" cy="638" r="1.9" stroke-width="1.3" fill="none" />
<circle cx="1274" cy="639.3" r="1.9" stroke-width="1.3" fill="none" />
<circle cx="1280.5" cy="640.7" r="1.9" stroke-width="1.3" fill="none" />
<circle cx="1287" cy="642.1" r="1.9" stroke-width="1.3" fill="none" />
<circle cx="1293.5" cy="643.4" r="1.9" stroke-width="1.3" fill="none" />
<circle cx="1300" cy="644.8" r="1.9" stroke-width="1.3" fill="none" />
<circle cx="1306.5" cy="646.2" r="1.9" stroke-width="1.3" fill="none" />
<circle cx="1313" cy="647.6" r="1.9" stroke-width="1.3" fill="none" />
<circle cx="1319.5" cy="648.9" r="1.9" stroke-width="1.3" fill="none" />
<circle cx="1326" cy="650.3" r="1.9" stroke-width="1.3" fill="none" />
<circle cx="1332.5" cy="651.7" r="1.9" stroke-width="1.3" fill="none" />
<circle cx="1339" cy="653" r="1.9" stroke-width="1.3" fill="none" />
<circle cx="1345.5" cy="654.4" r="1.9" stroke-width="1.3" fill="none" />
<circle cx="1352" cy="655.8" r="1.9" stroke-width="1.3" fill="none" />
<circle cx="1358.5" cy="657.1" r="1.9" stroke-width="1.3" fill="none" />
<circle cx="1365" cy="658.5" r="1.9" stroke-width="1.3" fill="none" />
<circle cx="1371.5" cy="659.9" r="1.9" stroke-width="1.3" fill="none" />
<circle cx="1378" cy="661.2" r="1.9" stroke-width="1.3" fill="none" />
<circle cx="1384.5" cy="662.6" r="1.9" stroke-width="1.3" fill="none" />
<circle cx="1391" cy="664" r="1.9" stroke-width="1.3" fill="none" />
<circle cx="1397.5" cy="665.3" r="1.9" stroke-width="1.3" fill="none" />
<circle cx="1404" cy="666.7" r="1.9" stroke-width="1.3" fill="none" />
<circle cx="1410.5" cy="668.1" r="1.9" stroke-width="1.3" fill="none" />
<circle cx="1417" cy="669.5" r="1.9" stroke-width="1.3" fill="none" />
<circle cx="1423.5" cy="670.8" r="1.9" stroke-width="1.3" fill="none" />
<circle cx="1430" cy="672.2" r="1.9" stroke-width="1.3" fill="none" />
<circle cx="1436.5" cy="673.6" r="1.9" stroke-width="1.3" fill="none" />
<circle cx="1443" cy="675" r="1.9" stroke-width="1.3" fill="none" />
<circle cx="1449.5" cy="676.4" r="1.9" stroke-width="1.3" fill="none" />
<circle cx="1456" cy="677.8" r="1.9" stroke-width="1.3" fill="none" />
<circle cx="1462.5" cy="679.2" r="1.9" stroke-width="1.3" fill="none" />
<circle cx="1469" cy="680.6" r="1.9" stroke-width="1.3" fill="none" />
<circle cx="1475.5" cy="682.1" r="1.9" stroke-width="1.3" fill="none" />
<circle cx="1482" cy="683.5" r="1.9" stroke-width="1.3" fill="none" />
<circle cx="1488.5" cy="684.9" r="1.9" stroke-width="1.3" fill="none" />
<circle cx="1495" cy="686.3" r="1.9" stroke-width="1.3" fill="none" />
<circle cx="1501.5" cy="687.7" r="1.9" stroke-width="1.3" fill="none" />
<circle cx="1508" cy="689.1" r="1.9" stroke-width="1.3" fill="none" />
<circle cx="1514.5" cy="690.6" r="1.9" stroke-width="1.3" fill="none" />
<circle cx="1521" cy="692" r="1.9" stroke-width="1.3" fill="none" />
<circle cx="1527.5" cy="693.4" r="1.9" stroke-width="1.3" fill="none" />
<circle cx="1534" cy="694.8" r="1.9" stroke-width="1.3" fill="none" />
<circle cx="1540.5" cy="696.2" r="1.9" stroke-width="1.3" fill="none" />
<circle cx="855" cy="676.5" r="2" stroke-width="1.0" fill="none" />
<circle cx="867" cy="676.5" r="2" stroke-width="1.0" fill="none" />
<circle cx="879" cy="676.4" r="2" stroke-width="1.0" fill="none" />
<circle cx="891" cy="676.4" r="2" stroke-width="1.0" fill="none" />
<circle cx="903" cy="676.4" r="2" stroke-width="1.0" fill="none" />
<circle cx="915" cy="676.4" r="2" stroke-width="1.0" fill="none" />
<circle cx="927" cy="676.3" r="2" stroke-width="1.0" fill="none" />
<circle cx="939" cy="676.3" r="2" stroke-width="1.0" fill="none" />
<circle cx="951" cy="677.1" r="2" stroke-width="1.0" fill="none" />
<circle cx="963" cy="677.9" r="2" stroke-width="1.0" fill="none" />
<circle cx="975" cy="678.8" r="2" stroke-width="1.0" fill="none" />
<circle cx="987" cy="679.6" r="2" stroke-width="1.0" fill="none" />
<circle cx="999" cy="680.4" r="2" stroke-width="1.0" fill="none" />
<circle cx="1011" cy="681.3" r="2" stroke-width="1.0" fill="none" />
<circle cx="1023" cy="682.1" r="2" stroke-width="1.0" fill="none" />
<circle cx="1035" cy="682.9" r="2" stroke-width="1.0" fill="none" />
<circle cx="1047" cy="683.8" r="2" stroke-width="1.0" fill="none" />
<circle cx="1059" cy="684.6" r="2" stroke-width="1.0" fill="none" />
<circle cx="1071" cy="685.5" r="2" stroke-width="1.0" fill="none" />
<circle cx="1083" cy="686.3" r="2" stroke-width="1.0" fill="none" />
<circle cx="1095" cy="687.1" r="2" stroke-width="1.0" fill="none" />
<circle cx="1107" cy="688.2" r="2" stroke-width="1.0" fill="none" />
<circle cx="1119" cy="689.4" r="2" stroke-width="1.0" fill="none" />
<circle cx="1131" cy="690.6" r="2" stroke-width="1.0" fill="none" />
<circle cx="1143" cy="691.8" r="2" stroke-width="1.0" fill="none" />
<circle cx="1155" cy="693" r="2" stroke-width="1.0" fill="none" />
<circle cx="1167" cy="694.2" r="2" stroke-width="1.0" fill="none" />
<circle cx="1179" cy="695.4" r="2" stroke-width="1.0" fill="none" />
<circle cx="1191" cy="696.6" r="2" stroke-width="1.0" fill="none" />
<circle cx="1203" cy="697.8" r="2" stroke-width="1.0" fill="none" />
<circle cx="1215" cy="699" r="2" stroke-width="1.0" fill="none" />
<circle cx="1227" cy="700.2" r="2" stroke-width="1.0" fill="none" />
<circle cx="1239" cy="701.4" r="2" stroke-width="1.0" fill="none" />
<circle cx="1251" cy="702.6" r="2" stroke-width="1.0" fill="none" />
<circle cx="1263" cy="703.8" r="2" stroke-width="1.0" fill="none" />
<circle cx="1275" cy="705.2" r="2" stroke-width="1.0" fill="none" />
<circle cx="1287" cy="706.8" r="2" stroke-width="1.0" fill="none" />
<circle cx="1299" cy="708.4" r="2" stroke-width="1.0" fill="none" />
<circle cx="1311" cy="710" r="2" stroke-width="1.0" fill="none" />
<circle cx="1323" cy="711.6" r="2" stroke-width="1.0" fill="none" />
<circle cx="1335" cy="713.2" r="2" stroke-width="1.0" fill="none" />
<circle cx="1347" cy="714.8" r="2" stroke-width="1.0" fill="none" />
<circle cx="1359" cy="716.4" r="2" stroke-width="1.0" fill="none" />
<circle cx="1371" cy="718" r="2" stroke-width="1.0" fill="none" />
<circle cx="1383" cy="719.6" r="2" stroke-width="1.0" fill="none" />
<circle cx="1395" cy="721.2" r="2" stroke-width="1.0" fill="none" />
<circle cx="1407" cy="722.8" r="2" stroke-width="1.0" fill="none" />
<circle cx="1419" cy="724.4" r="2" stroke-width="1.0" fill="none" />
<circle cx="1431" cy="725" r="2" stroke-width="1.0" fill="none" />
<circle cx="1443" cy="725.6" r="2" stroke-width="1.0" fill="none" />
<circle cx="1455" cy="726.2" r="2" stroke-width="1.0" fill="none" />
<circle cx="1467" cy="726.9" r="2" stroke-width="1.0" fill="none" />
<circle cx="1479" cy="727.5" r="2" stroke-width="1.0" fill="none" />
<circle cx="1491" cy="728" r="2" stroke-width="1.0" fill="none" />
<circle cx="1503" cy="728.6" r="2" stroke-width="1.0" fill="none" />
<circle cx="1515" cy="729" r="2" stroke-width="1.0" fill="none" />
<circle cx="1527" cy="729.3" r="2" stroke-width="1.0" fill="none" />
<circle cx="1539" cy="729.7" r="2" stroke-width="1.0" fill="none" />
<circle cx="1551" cy="730.1" r="2" stroke-width="1.0" fill="none" />
<polyline points="850,680 856,680 862,680 868,680 874,679.9 880,679.9 886,679.9 892,679.9 898,679.9 904,679.9 910,679.9 916,679.9 922,679.8 928,679.8 934,679.8 940,679.8 946,680.2 952,680.6 958,681.1 964,681.5 970,681.9 976,682.3 982,682.7 988,683.2 994,683.6 1000,684 1006,684.4 1012,684.8 1018,685.3 1024,685.7 1030,686.1 1036,686.5 1042,686.9 1048,687.4 1054,687.8 1060,688.2 1066,688.6 1072,689 1078,689.5 1084,689.9 1090,690.3 1096,690.7 1102,691.2 1108,691.8 1114,692.4 1120,693 1126,693.6 1132,694.2 1138,694.8 1144,695.4 1150,696 1156,696.6 1162,697.2 1168,697.8 1174,698.4 1180,699 1186,699.6 1192,700.2 1198,700.8 1204,701.4 1210,702 1216,702.6 1222,703.2 1228,703.8 1234,704.4 1240,705 1246,705.6 1252,706.2 1258,706.8 1264,707.4 1270,708 1276,708.8 1282,709.6 1288,710.4 1294,711.2 1300,712 1306,712.8 1312,713.6 1318,714.4 1324,715.2 1330,716 1336,716.8 1342,717.6 1348,718.4 1354,719.2 1360,720 1366,720.8 1372,721.6 1378,722.4 1384,723.2 1390,724 1396,724.8 1402,725.6 1408,726.4 1414,727.2 1420,728 1426,728.3 1432,728.6 1438,728.9 1444,729.2 1450,729.5 1456,729.8 1462,730.1 1468,730.4 1474,730.7 1480,731 1486,731.3 1492,731.6 1498,731.9 1504,732.1 1510,732.3 1516,732.5 1522,732.7 1528,732.9 1534,733 1540,733.2 1546,733.4 1552,733.6 1558,733.8 1564,734 1565,734" stroke-width="1.0" fill="none" />
<polyline points="850,683.5 856,683.5 862,683.5 868,683.5 874,683.4 880,683.4 886,683.4 892,683.4 898,683.4 904,683.4 910,683.4 916,683.4 922,683.3 928,683.3 934,683.3 940,683.3 946,683.7 952,684.1 958,684.6 964,685 970,685.4 976,685.8 982,686.2 988,686.7 994,687.1 1000,687.5 1006,687.9 1012,688.3 1018,688.8 1024,689.2 1030,689.6 1036,690 1042,690.4 1048,690.9 1054,691.3 1060,691.7 1066,692.1 1072,692.5 1078,693 1084,693.4 1090,693.8 1096,694.2 1102,694.7 1108,695.3 1114,695.9 1120,696.5 1126,697.1 1132,697.7 1138,698.3 1144,698.9 1150,699.5 1156,700.1 1162,700.7 1168,701.3 1174,701.9 1180,702.5 1186,703.1 1192,703.7 1198,704.3 1204,704.9 1210,705.5 1216,706.1 1222,706.7 1228,707.3 1234,707.9 1240,708.5 1246,709.1 1252,709.7 1258,710.3 1264,710.9 1270,711.5 1276,712.3 1282,713.1 1288,713.9 1294,714.7 1300,715.5 1306,716.3 1312,717.1 1318,717.9 1324,718.7 1330,719.5 1336,720.3 1342,721.1 1348,721.9 1354,722.7 1360,723.5 1366,724.3 1372,725.1 1378,725.9 1384,726.7 1390,727.5 1396,728.3 1402,729.1 1408,729.9 1414,730.7 1420,731.5 1426,731.8 1432,732.1 1438,732.4 1444,732.7 1450,733 1456,733.3 1462,733.6 1468,733.9 1474,734.2 1480,734.5 1486,734.8 1492,735.1 1498,735.4 1504,735.6 1510,735.8 1516,736 1522,736.2 1528,736.4 1534,736.5 1540,736.7 1546,736.9 1552,737.1 1558,737.3 1564,737.5 1565,737.5" stroke-width="1.2" fill="none" />
<circle cx="858" cy="682" r="1.5" stroke-width="1.2" fill="#555" />
<circle cx="867" cy="682" r="1.5" stroke-width="1.2" fill="#555" />
<circle cx="876" cy="681.9" r="1.5" stroke-width="1.2" fill="#555" />
<circle cx="885" cy="681.9" r="1.5" stroke-width="1.2" fill="#555" />
<circle cx="894" cy="681.9" r="1.5" stroke-width="1.2" fill="#555" />
<circle cx="903" cy="681.9" r="1.5" stroke-width="1.2" fill="#555" />
<circle cx="912" cy="681.9" r="1.5" stroke-width="1.2" fill="#555" />
<circle cx="921" cy="681.8" r="1.5" stroke-width="1.2" fill="#555" />
<circle cx="930" cy="681.8" r="1.5" stroke-width="1.2" fill="#555" />
<circle cx="939" cy="681.8" r="1.5" stroke-width="1.2" fill="#555" />
<circle cx="948" cy="682.4" r="1.5" stroke-width="1.2" fill="#555" />
<circle cx="957" cy="683" r="1.5" stroke-width="1.2" fill="#555" />
<circle cx="966" cy="683.6" r="1.5" stroke-width="1.2" fill="#555" />
<circle cx="975" cy="684.2" r="1.5" stroke-width="1.2" fill="#555" />
<circle cx="984" cy="684.9" r="1.5" stroke-width="1.2" fill="#555" />
<circle cx="993" cy="685.5" r="1.5" stroke-width="1.2" fill="#555" />
<circle cx="1002" cy="686.1" r="1.5" stroke-width="1.2" fill="#555" />
<circle cx="1011" cy="686.8" r="1.5" stroke-width="1.2" fill="#555" />
<circle cx="1020" cy="687.4" r="1.5" stroke-width="1.2" fill="#555" />
<circle cx="1029" cy="688" r="1.5" stroke-width="1.2" fill="#555" />
<circle cx="1038" cy="688.7" r="1.5" stroke-width="1.2" fill="#555" />
<circle cx="1047" cy="689.3" r="1.5" stroke-width="1.2" fill="#555" />
<circle cx="1056" cy="689.9" r="1.5" stroke-width="1.2" fill="#555" />
<circle cx="1065" cy="690.5" r="1.5" stroke-width="1.2" fill="#555" />
<circle cx="1074" cy="691.2" r="1.5" stroke-width="1.2" fill="#555" />
<circle cx="1083" cy="691.8" r="1.5" stroke-width="1.2" fill="#555" />
<circle cx="1092" cy="692.4" r="1.5" stroke-width="1.2" fill="#555" />
<circle cx="1101" cy="693.1" r="1.5" stroke-width="1.2" fill="#555" />
<circle cx="1110" cy="694" r="1.5" stroke-width="1.2" fill="#555" />
<circle cx="1119" cy="694.9" r="1.5" stroke-width="1.2" fill="#555" />
<circle cx="1128" cy="695.8" r="1.5" stroke-width="1.2" fill="#555" />
<circle cx="1137" cy="696.7" r="1.5" stroke-width="1.2" fill="#555" />
<circle cx="1146" cy="697.6" r="1.5" stroke-width="1.2" fill="#555" />
<circle cx="1155" cy="698.5" r="1.5" stroke-width="1.2" fill="#555" />
<circle cx="1164" cy="699.4" r="1.5" stroke-width="1.2" fill="#555" />
<circle cx="1173" cy="700.3" r="1.5" stroke-width="1.2" fill="#555" />
<circle cx="1182" cy="701.2" r="1.5" stroke-width="1.2" fill="#555" />
<circle cx="1191" cy="702.1" r="1.5" stroke-width="1.2" fill="#555" />
<circle cx="1200" cy="703" r="1.5" stroke-width="1.2" fill="#555" />
<circle cx="1209" cy="703.9" r="1.5" stroke-width="1.2" fill="#555" />
<circle cx="1218" cy="704.8" r="1.5" stroke-width="1.2" fill="#555" />
<circle cx="1227" cy="705.7" r="1.5" stroke-width="1.2" fill="#555" />
<circle cx="1236" cy="706.6" r="1.5" stroke-width="1.2" fill="#555" />
<circle cx="1245" cy="707.5" r="1.5" stroke-width="1.2" fill="#555" />
<circle cx="1254" cy="708.4" r="1.5" stroke-width="1.2" fill="#555" />
<circle cx="1263" cy="709.3" r="1.5" stroke-width="1.2" fill="#555" />
<circle cx="1272" cy="710.3" r="1.5" stroke-width="1.2" fill="#555" />
<circle cx="1281" cy="711.5" r="1.5" stroke-width="1.2" fill="#555" />
<circle cx="1290" cy="712.7" r="1.5" stroke-width="1.2" fill="#555" />
<circle cx="1299" cy="713.9" r="1.5" stroke-width="1.2" fill="#555" />
<circle cx="1308" cy="715.1" r="1.5" stroke-width="1.2" fill="#555" />
<circle cx="1317" cy="716.3" r="1.5" stroke-width="1.2" fill="#555" />
<circle cx="1326" cy="717.5" r="1.5" stroke-width="1.2" fill="#555" />
<circle cx="1335" cy="718.7" r="1.5" stroke-width="1.2" fill="#555" />
<circle cx="1344" cy="719.9" r="1.5" stroke-width="1.2" fill="#555" />
<circle cx="1353" cy="721.1" r="1.5" stroke-width="1.2" fill="#555" />
<circle cx="1362" cy="722.3" r="1.5" stroke-width="1.2" fill="#555" />
<circle cx="1371" cy="723.5" r="1.5" stroke-width="1.2" fill="#555" />
<circle cx="1380" cy="724.7" r="1.5" stroke-width="1.2" fill="#555" />
<circle cx="1389" cy="725.9" r="1.5" stroke-width="1.2" fill="#555" />
<circle cx="1398" cy="727.1" r="1.5" stroke-width="1.2" fill="#555" />
<circle cx="1407" cy="728.3" r="1.5" stroke-width="1.2" fill="#555" />
<circle cx="1416" cy="729.5" r="1.5" stroke-width="1.2" fill="#555" />
<circle cx="1425" cy="730.2" r="1.5" stroke-width="1.2" fill="#555" />
<circle cx="1434" cy="730.7" r="1.5" stroke-width="1.2" fill="#555" />
<circle cx="1443" cy="731.1" r="1.5" stroke-width="1.2" fill="#555" />
<circle cx="1452" cy="731.6" r="1.5" stroke-width="1.2" fill="#555" />
<circle cx="1461" cy="732" r="1.5" stroke-width="1.2" fill="#555" />
<circle cx="1470" cy="732.5" r="1.5" stroke-width="1.2" fill="#555" />
<circle cx="1479" cy="733" r="1.5" stroke-width="1.2" fill="#555" />
<circle cx="1488" cy="733.4" r="1.5" stroke-width="1.2" fill="#555" />
<circle cx="1497" cy="733.9" r="1.5" stroke-width="1.2" fill="#555" />
<circle cx="1506" cy="734.2" r="1.5" stroke-width="1.2" fill="#555" />
<circle cx="1515" cy="734.5" r="1.5" stroke-width="1.2" fill="#555" />
<circle cx="1524" cy="734.7" r="1.5" stroke-width="1.2" fill="#555" />
<circle cx="1533" cy="735" r="1.5" stroke-width="1.2" fill="#555" />
<circle cx="1542" cy="735.3" r="1.5" stroke-width="1.2" fill="#555" />
<circle cx="1551" cy="735.6" r="1.5" stroke-width="1.2" fill="#555" />
<polyline points="1060,594.6 1070,596.4 1080,598.3 1090,600.1 1100,602 1110,603.9 1120,605.8 1130,607.6 1140,609.5 1150,611.4 1160,613.3 1170,615.2 1180,617.1 1190,618.9 1200,620.8 1210,622.7 1220,624.6 1230,626.5 1240,628.4 1250,630.2 1260,632.1 1270,634" stroke-width="1.2" fill="none" />
<polyline points="1060,596.6 1070,598.4 1080,600.3 1090,602.1 1100,604 1110,605.9 1120,607.8 1130,609.6 1140,611.5 1150,613.4 1160,615.3 1170,617.2 1180,619.1 1190,620.9 1200,622.8 1210,624.7 1220,626.6 1230,628.5 1240,630.4 1250,632.2 1260,634.1 1270,636" stroke-width="1.0" fill="none" />
<path d="M858,612 Q930,628 1000,640 Q1100,656 1200,668 Q1245,670 1280,667" stroke-width="1.6" fill="none" />
<circle cx="1284" cy="667" r="3.5" stroke-width="1.3" fill="none" />
<path d="M1286,670 Q1291,676 1290,682" stroke-width="1.3" fill="none" />
<path d="M1287,683 L1295,683 L1293,692 L1289,692 Z" stroke-width="1.2" fill="none" />
<path d="M1276,616 L1306,618" stroke-width="4.5" fill="none" />
<path d="M1276,616 L1306,618" stroke-width="2.2" fill="none" stroke="#fff"/>
<rect x="1283" y="611" width="9" height="10" rx="0" stroke-width="1.2" fill="#fff" />
<path d="M1284,621 L1284,628 Q1286,634 1290,636 L1292,642 M1294,621 L1298,640 Q1300,645 1308,646" stroke-width="1.3" fill="none" />
<path d="M1321,721 L1352,727 Q1358,730 1365,738 Q1362,740 1355,730 L1321,727" stroke-width="1.3" fill="none" />
<rect x="876" y="688" width="20" height="12" rx="0" stroke-width="1.3" fill="none" />
<circle cx="882" cy="694" r="2" stroke-width="1" fill="none" />
<path d="M50,749.7 L400,746.6 L700,745.5 L1000,745 L1300,744.5 L1456,743 M1633,742.5 L1710,742.2" stroke-width="1.8" fill="none" />
<path d="M453,750.6 l9.3,-2.3 M83.6,753.7 l0.7,0.3 M447,752.7 l0.7,0.3 M1436.3,747.4 l9.6,-1.9 M1105.1,750.9 l0.7,0.3 M1279.9,746.2 l0.7,0.3 M1307.8,748.2 l0.7,0.3 M113,755.4 l0.7,0.3 M1243,752.1 l0.7,0.3 M710.9,751.5 l0.7,0.3 M222.1,751.1 l7.9,0.6 M556.6,755.3 l7.4,-0.6 M1023.3,754.6 l0.7,0.3 M1182.5,753.6 l0.7,0.3 M1690.2,746 l0.7,0.3 M1646.9,749.6 l0.7,0.3 M1234.8,747 l6.4,-1.6 M1688.3,747.3 l11.2,-0.6 M309.7,749.4 l4.4,0.3 M135.8,753.9 l0.7,0.3 M1673.2,750.2 l12.9,-1.4 M188.5,750.8 l0.7,0.3 M386.3,749.3 l4.3,0.9 M577.6,756 l0.7,0.3 M682.7,747.9 l8.7,0.7 M1040.7,752 l0.7,0.3 M895,746.5 l6.5,1.8 M918.2,748.3 l4.1,-0.2 M1014.9,749 l4.5,0.3 M828,750.3 l0.7,0.3 M1223.5,746 l0.7,0.3 M161.5,759.4 l0.7,0.3 M474.6,750.5 l9.3,-0.9 M660,749.8 l6.7,-0.5 M1330.8,747.8 l9,1.2 M571.4,747.9 l5.7,-0.2 M1208.9,747.3 l6.9,-0.6 M1431.5,745.5 l7,0.6 M803.2,747.9 l5.1,0.1 M375.5,756.3 l0.7,0.3 M363.6,749.7 l11.2,-1 M275.1,753.2 l11.1,-1.4 M631.1,749.8 l12.1,-2.4 M69.7,759.4 l0.7,0.3 M1683.5,745.3 l12.2,3 M426.9,756 l0.7,0.3 M1151.3,745.9 l5.9,-1.4 M1029.2,748.4 l10.9,-2.8 M1201.8,753.9 l0.7,0.3 M1009.9,745.7 l6.7,0.6 M924.5,747.9 l12.4,0.8 M622.8,749.3 l11,-0.9 M386.2,750.7 l11.2,-2.1 M1362.7,752.6 l0.7,0.3 M1415,748.7 l4.4,-0.6 M503.3,752 l7.8,-0.1 M1337.8,746.2 l5,-1.2 M1663.4,745.3 l0.7,0.3 M887,746.6 l6.8,-0.6 M1124.9,749.3 l0.7,0.3 M375.9,750.9 l10.4,-0.7 M193.3,752.5 l7.3,0.4 M1347.8,746 l7.9,-0.6 M877.2,750.7 l0.7,0.3 M1202.4,749.3 l6.2,0.1 M1204.2,748 l11.6,2.9 M676.9,754.7 l0.7,0.3 M492.8,749 l5,0.9 M1150.1,753.1 l0.7,0.3 M1158.8,751.1 l0.7,0.3 M231.4,750.1 l0.7,0.3 M297.8,749.9 l0.7,0.3 M212.8,750.9 l4.1,0.8 M261.3,755.9 l0.7,0.3 M1435.8,750.3 l0.7,0.3 M1374.3,745.8 l10.9,0.1 M1237,745 l4.5,-0.4 M988.6,748.7 l0.7,0.3 M357.4,755.6 l9.4,1.4 M708.9,749 l7.6,-1.8 M884,750.6 l0.7,0.3 M1290,746.6 l10.1,1.5 M1169.1,749.7 l11.8,-2.4 M219.5,758.4 l0.7,0.3 M911.8,746.5 l10.3,-1.8 M501.3,749.8 l6.1,0.7 M548.1,751.8 l0.7,0.3 M1022.6,747.1 l5.7,-1.6 M849.8,747.6 l6.8,1.1 M298,753.8 l0.7,0.3 M1046.2,748.2 l11.3,2.1 M977.4,746.9 l7.5,1 M829.9,752.5 l6.1,0.7 M1171.6,753.6 l0.7,0.3 M459.8,747.7 l10.1,2.1 M481,751.1 l0.7,0.3 M757.5,748.1 l0.7,0.3 M214.2,752.9 l0.7,0.3 M648,753.8 l0.7,0.3 M73.3,752.7 l7.9,-0.1 M407.2,757.2 l0.7,0.3 M704.3,748.6 l9.8,-2.2 M221.2,753.5 l0.7,0.3 M1331.1,748.1 l0.7,0.3 M1172.5,753.2 l0.7,0.3 M498.4,756.9 l0.7,0.3 M1167.5,746.9 l5,-0 M640.6,753.8 l0.7,0.3 M992.6,748.5 l5.5,1.2 M1138.8,748.8 l12.1,-2.5 M606.7,753.2 l0.7,0.3 M973.7,750.7 l0.7,0.3 M575.3,751.8 l10.8,0.3 M1277.2,746.9 l6.4,-0.4 M131.2,750.3 l7.2,-0.7 M724.7,752.1 l10.9,-0.9 M246.2,750.4 l10.9,1.4 M365.7,749 l7.7,1.1 M1402.3,750.5 l0.7,0.3 M302.7,750 l9,-1.5 M473,748.6 l0.7,0.3 M1381.6,753.8 l0.7,0.3 M691.5,752.8 l0.7,0.3 M1103.1,752.3 l0.7,0.3 M553.9,752.4 l0.7,0.3 M1050,746.4 l0.7,0.3 M1327.9,749.9 l0.7,0.3 M922.3,749.6 l5.7,0.1 M122.9,752.4 l8.8,2.3 M284.8,755.2 l0.7,0.3 M145.1,752.8 l5.9,-1.4 M947.4,749.6 l0.7,0.3 M1203.3,747.8 l12.3,1.5 M1277.4,748.2 l10.9,2.7 M780,751.6 l0.7,0.3 M241.3,751.1 l5.4,-0 M1210.9,746 l7.8,0.7 M562.5,747.3 l5.5,1.2 M1244.5,748.1 l7.3,0.1 M1042,747.8 l10.8,-2.2 M817.8,746.3 l5.8,-1.1 M725.4,748.1 l5.5,-0 M160.1,750.2 l8,-0.4 M1217.8,747.6 l4.1,1.1 M421.7,749.6 l8.1,-1.5 M1084.7,746.2 l10.5,-1.3 M1356.4,745.3 l12.3,-1.4 M472.7,749.3 l6.9,-1.6 M1183.2,751.2 l0.7,0.3 M68,754.9 l4.7,-0.9 M122.1,754.1 l5.6,1.5 M845.5,755.3 l0.7,0.3 M118.2,756 l9.2,2.3 M206.2,750.4 l7.5,-0.7 M1179.3,747.5 l0.7,0.3 M1277.5,753.1 l0.7,0.3 M971.1,749.9 l0.7,0.3 M743.4,747.8 l11,-0.1 M504.7,748.2 l10.4,-0.7 M862.3,750.5 l10,-2.7 M829.2,753.2 l0.7,0.3 M221.5,751.9 l11.6,2.5 M801.2,753.8 l0.7,0.3 M610.3,750.8 l4.6,-0.3 M234.5,751 l0.7,0.3 M194.9,752.6 l0.7,0.3 M142.2,752.7 l4.1,-0.6 M1651.2,747 l9.1,-0.4 M1345.4,752.5 l0.7,0.3 M941.4,746.5 l11.2,-2.5 M101.4,753 l0.7,0.3 M202.9,750.7 l5.9,1.1 M1073.1,753.1 l0.7,0.3 M630.6,751.8 l0.7,0.3 M244.3,755.3 l0.7,0.3 M1400.7,747.9 l10.3,-2.5 M630.7,747.8 l4.6,0.1 M1270.1,747.4 l5.9,-0.5 M1698,747.2 l7.7,-1.8 M420,752.4 l11.4,3.2 M1067.8,751.1 l0.7,0.3 M750,755.5 l0.7,0.3 M857.5,750.6 l0.7,0.3 M1700.6,747.1 l0.7,0.3 M365.3,750.3 l10.4,-1.2 M915.5,747.2 l0.7,0.3 M1286.3,747.4 l10.6,1.5 M534,748.5 l6.7,-0.3 M189.4,750.1 l12.3,3.4 M674.2,751.7 l6.8,-0.1 M926.1,749.9 l6.6,-0.1 M1388.1,749.3 l6.1,1.1 M78.5,754.5 l5.3,-1.4 M397.1,752.8 l0.7,0.3 M1671,753.3 l0.7,0.3 M119.7,751 l4.1,-0.2 M617.8,748.4 l6.7,-1 M1379.9,744.9 l6.1,-1.6 M767.8,753.4 l0.7,0.3 M1390.5,748 l11.1,0.1 M1427.3,747.6 l0.7,0.3 M339.2,752.4 l9.5,2.2 M830.1,755.4 l0.7,0.3 M1399.4,748.9 l0.7,0.3 M913.7,748 l12.9,0.3 M732.6,751 l8,1.4 M805.5,748.5 l0.7,0.3 M579.4,752.4 l11.1,2.7 M1068.3,748.8 l9.2,0.3 M863.1,747.9 l4.9,0.5 M672,753.6 l11.7,3.1 M1119.4,747.1 l7.3,1.4 M581.5,748.1 l12.2,3.1 M583.5,747.5 l6,1.7 M192.2,751.3 l5.6,-1.4 M926.6,754.3 l0.7,0.3 M1098.9,746.2 l0.7,0.3 M525.6,748.8 l0.7,0.3 M501.7,747.9 l4.4,-0.7 M298.9,751.1 l0.7,0.3 M1693.2,750.3 l0.7,0.3 M295.7,752.7 l10.7,-2 M373.5,756.7 l0.7,0.3 M142.2,755.7 l0.7,0.3 M690.3,754 l6.4,-1.3 M300.7,754.7 l7,1.7 M188.5,759.8 l12.7,-1.8 M644.2,752.1 l0.7,0.3 M1217.7,749 l4.2,-0.4 M1291.3,750.7 l0.7,0.3 M824.5,750 l11.3,-1.9 M1038.5,754 l0.7,0.3 M356.8,756.5 l0.7,0.3 M337.9,749.7 l5.6,-1.4 M1669.5,744.8 l4,0.8 M1366.6,751.5 l0.7,0.3 M925,747.6 l0.7,0.3 M949.8,747 l5.3,0.3 M593,749 l7.2,0.4 M1673,752.3 l0.7,0.3 M1434.3,746.3 l12.7,-1.6 M264.4,749.3 l9.7,-1.2 M1650.7,746.6 l8.3,0.1 M1682.9,747.8 l4.6,-0.2 M1339.3,746.2 l11.7,-0.8 M1674.2,744.6 l11.9,-0.5 M1230.8,748.9 l6.7,0 M717.6,750.4 l9.1,-1.8 M423.3,753 l9.3,-1.9 M196,749.8 l8.6,2.1 M940,754.2 l0.7,0.3 M1438.3,749 l0.7,0.3 M1183.2,745.9 l11.9,-0.8 M843,749.6 l0.7,0.3 M374,754.2 l0.7,0.3 M201.4,749.8 l11.3,-2 M512.5,747.7 l8.6,-0.3 M1094.9,750.1 l0.7,0.3 M221.4,756.4 l0.7,0.3 M199.3,749.8 l4.4,-1.2 M850.5,756.1 l11.8,2.2 M606.8,752.8 l5.8,-0.4 M207.3,750.5 l0.7,0.3 M922.5,747.5 l0.7,0.3 M443.6,750.9 l11.7,0.3 M529.6,754.1 l0.7,0.3 M930.1,748 l5.2,0.1 M1080.6,752 l10.6,2.5 M1274.5,748 l6.7,-1.2 M417,757 l0.7,0.3 M258.7,753.4 l0.7,0.3 M410.2,749 l4.3,-0 M693.4,755 l0.7,0.3 M155.6,751.5 l6.2,-0.8 M1202.4,746.3 l4.9,-0.8 M788.5,749.4 l0.7,0.3 M1211.5,747.1 l5.5,0.8 M709.7,750.5 l9.4,0.7 M788.8,747.9 l8.4,0.4 M503.1,754.4 l0.7,0.3 M426.6,757.4 l0.7,0.3 M630.4,752.1 l0.7,0.3 M355.6,752 l0.7,0.3 M1265.2,746.6 l0.7,0.3 M929.6,751 l0.7,0.3 M948.1,750.7 l0.7,0.3 M871.5,754.3 l0.7,0.3 M395.7,754 l10.8,0.3 M559.4,756 l0.7,0.3 M951.6,754.2 l0.7,0.3 M1291,749.6 l10.6,-0.9 M848.6,749.3 l0.7,0.3 M1208.2,749.3 l0.7,0.3 M242.1,752.9 l0.7,0.3 M1253,745.2 l7.4,-1.3 M732.8,748.4 l0.7,0.3 M152,751.1 l5.4,-1.2 M945.1,754.5 l0.7,0.3 M909,749.6 l4.6,-0.6 M578.3,749 l0.7,0.3 M845.3,746.9 l5.7,0.2 M901.2,754.2 l5.8,1.6 M1361.3,753.4 l0.7,0.3 M223.9,756.9 l0.7,0.3 M432.3,750.5 l10.7,-2 M1158.2,745.6 l8.6,-0.6 M1285.8,746.1 l11.1,-1.5 M956,750.1 l0.7,0.3 M138.5,753.2 l9.6,-1.6 M1307.6,750.6 l10.5,-0.8 M133.5,757.7 l0.7,0.3 M395,749.6 l12.7,1.7 M858.2,748.3 l0.7,0.3 M955.9,752.1 l0.7,0.3 M326.8,753.1 l5,-1.4 M198.1,753.9 l0.7,0.3 M810.8,752.6 l0.7,0.3 M494.6,748.3 l0.7,0.3 M524.6,749.7 l0.7,0.3 M115.7,755 l6.7,1.8 M228.9,753.6 l0.7,0.3 M1385.3,745.8 l6,-0.2 M1376.7,746.9 l6.1,-0.3 M219.6,753 l9.3,-1.1 M102.7,752.2 l6.9,-1.2 M996.8,746 l9.9,1.3 M919,750.3 l6.6,-1.6 M1367.2,750.4 l9.2,0.6 M782.7,750.7 l12.8,-2.4 M663.7,748.7 l0.7,0.3 M882.7,746.2 l7.4,-2.1 M840,753.5 l10.2,2.1 M140.8,753.6 l0.7,0.3 M838.5,746.8 l9.4,-2.2 M1646.2,745.3 l12.5,-2.2 M199.1,755.2 l0.7,0.3 M1325.3,745.5 l10.1,0.1 M1642.9,744.7 l4.6,0.5 M754.9,752.4 l0.7,0.3 M704.2,747.3 l6.7,0.9 M486.1,747.9 l6.3,-0.5 M1130.8,754.7 l0.7,0.3 M845.4,746.8 l6.1,0.3 M1066,746.4 l5.5,-1.3 M355.5,748.4 l9,-0.8 M770.3,753.1 l10.5,1.5 M659.5,750.1 l0.7,0.3 M422.6,749.2 l9.7,1.2 M232.5,754.4 l0.7,0.3 M683.8,750.9 l7.8,-1.3 M711,753.9 l0.7,0.3 M381.4,756 l0.7,0.3 M1233.4,747 l0.7,0.3 M1337.9,746.5 l0.7,0.3 M1039,749 l0.7,0.3 M776.9,747.7 l7.8,-0.8 M789.7,749.5 l0.7,0.3 M92,754.2 l0.7,0.3 M695.4,750 l0.7,0.3 M202.9,752.5 l0.7,0.3 M426.1,750.6 l0.7,0.3 M609.3,752.9 l5.9,0.1 M982.3,748.5 l11.2,2.8 M1299.3,746.2 l0.7,0.3 M473.3,747.7 l5.2,1.4 M978.5,746.8 l12,-1.6 M535.4,749.9 l0.7,0.3 M573.2,748.9 l0.7,0.3 M716.9,747.1 l9.9,0.5 M474.4,748.2 l11.8,-1 M340.6,748.6 l5,-0.5 M954.5,747.2 l8.3,1.3 M781.2,751.6 l0.7,0.3 M259.7,751.3 l11.6,-0.1 M690.3,748.5 l7.2,-0.5 M79.8,753.2 l8.3,-0 M804,746.8 l12.5,-2.7 M349.6,751.4 l0.7,0.3 M190.5,751.7 l11.3,2.2 M1671.7,744.8 l10.8,-0.3 M1284.5,754.6 l0.7,0.3 M1174.1,750.9 l0.7,0.3 M194.6,751.2 l0.7,0.3 M202.9,752.9 l0.7,0.3 M1150.3,746.3 l5.9,0.7 M123.9,752.3 l10.2,1.4 M1080.6,752.5 l0.7,0.3 M85.5,751.4 l8.5,2.3 M418.5,749.7 l0.7,0.3 M793.4,747.2 l10.4,1.8 M524.4,748.9 l5.3,1.2 M781.7,751.3 l6.8,-0.6 M1320.9,748.1 l0.7,0.3 M183,757.1 l0.7,0.3 M1038.3,746.2 l12.6,-0.5 M417.8,750.3 l7.1,1.8 M1129.6,748.8 l9.9,0.6 M1076.7,749.1 l11.3,-2 M1352.5,745.1 l11.3,-2.8 M858.8,746.7 l6.2,-1.3 M984.5,746.6 l0.7,0.3 M354.3,750.3 l12.6,-0.3 M991.2,748.9 l9.7,-2.8 M784.1,751.4 l4.3,0.7 M585.9,750.1 l8.3,1.7 M914.5,749 l4.6,0.1 M659.2,747.1 l4.3,-0.8 M216.4,755.4 l0.7,0.3 M453.9,754.1 l0.7,0.3 M163.9,752.7 l0.7,0.3 M1700.6,744 l6.5,-0.9 M1406.9,746.5 l0.7,0.3 M766.3,747.8 l0.7,0.3 M1444.3,751.3 l0.7,0.3 M1076.8,748.7 l0.7,0.3 M564,749.6 l4.8,0.7 M713.1,754.3 l0.7,0.3 M1190.5,746.3 l0.7,0.3 M498.1,752.6 l7.8,0.7 M1277.9,751.9 l0.7,0.3 M647.7,746.9 l7.3,-0.6 M1071.6,751.4 l11.5,-3.3 M1127.8,746.7 l8,2.1 M1025.7,754.4 l0.7,0.3 M333.4,756.7 l0.7,0.3 M1690,748 l0.7,0.3 M401.1,750.5 l0.7,0.3 M1306.2,752.9 l0.7,0.3 M647.7,750.8 l12.1,1.1 M683.4,751.5 l0.7,0.3 M1118.4,747.3 l11.8,1.7 M519.1,756.1 l10.4,1.9 M1134.4,746 l7.4,0.4 M799.3,753.9 l0.7,0.3 M1676.6,747.5 l8.9,2.3 M1141.5,753.7 l0.7,0.3 M113.5,756.7 l0.7,0.3 M1021.9,746.9 l8.6,-1.2 M1384.1,745.6 l10.8,-0.7 M922.3,749.4 l10.5,-2.5 M1408.3,748.6 l9.1,-0.1 M159.3,753.3 l6.7,1.2 M645.9,751.3 l0.7,0.3 M189.5,751.1 l0.7,0.3 M477.8,749.3 l0.7,0.3 M956,752 l0.7,0.3 M634,755.2 l0.7,0.3 M1013.9,749.4 l0.7,0.3 M731.5,756.1 l0.7,0.3 M64.8,753.7 l5.9,1 M391.6,748.1 l12.8,-0.3 M1408.8,746.3 l11.1,-0.5 M427,748.9 l6.6,1.2 M385.7,751.8 l4.8,-0.4 M883.6,746.5 l6.3,1.4 M161.5,756.3 l0.7,0.3 M1412.9,748.9 l4.5,-0.8 M1091.9,749.7 l11.7,2.4 M1437.9,752.9 l0.7,0.3 M1208.1,749.7 l0.7,0.3 M102,754 l6.2,-0.1 M260.9,755 l0.7,0.3 M1278.5,747.6 l0.7,0.3 M501.4,749.5 l11.2,-0.6 M1051.3,751.9 l6.1,-0.3 M1285.6,745.5 l12.6,-1.9 M1407.4,753.8 l0.7,0.3 M834.5,749.7 l0.7,0.3 M1430.4,744.6 l11.9,0.6 M163.7,753.5 l0.7,0.3 M174,752.4 l10,2.8 M1099.3,753.6 l0.7,0.3 M1236.3,745.4 l6.2,-1.2 M960.7,746 l9.2,0.2 M1093.7,748.2 l6.3,0.7 M412.2,757.2 l0.7,0.3 M701.3,753 l0.7,0.3 M926.6,752.9 l0.7,0.3 M382.8,751.1 l9.7,2.3 M1368.1,746.6 l0.7,0.3 M1217.3,754.2 l0.7,0.3 M66.2,752.5 l12.7,-0.9 M1221.4,749.4 l0.7,0.3 M782.7,756.1 l0.7,0.3 M938.3,749.4 l0.7,0.3 M1231.4,752.4 l0.7,0.3 M193.1,755.9 l0.7,0.3 M488.8,749.4 l11.5,1.4 M328.8,749.7 l7.4,-0 M1229.9,745.3 l6.5,1.1 M183.1,752.2 l0.7,0.3 M132,754.4 l8.7,0.5 M678.5,754.6 l0.7,0.3 M315,751.7 l4.9,-0.9 M1212.4,745.8 l7.3,0.7 M640.8,756.2 l0.7,0.3 M1364.8,750.9 l0.7,0.3 M570.6,753.8 l0.7,0.3 M1026.5,745.6 l10,2.8 M121,752.4 l12.5,-3 M1405.6,745.8 l0.7,0.3 M1096.5,747 l12,2.7 M286.4,751 l5.3,0.8 M218.7,754.1 l6.2,-0.6 M795.1,750.9 l0.7,0.3 M621.6,751.2 l11.6,-1.7 M347.8,751.9 l0.7,0.3 M1412.7,745.1 l11.9,-0.4 M624.2,748.3 l5.9,1.3 M276.6,755.3 l0.7,0.3 M917,747.7 l11.1,2.5 M988.6,747 l12,-2 M342.8,756.6 l0.7,0.3 M1002.2,747.6 l6.8,1.9 M1363.5,746 l0.7,0.3 M719.3,746.9 l10.8,2.6 M140.2,752.4 l6.6,1 M786.9,754.9 l0.7,0.3 M1223.6,746.6 l10.2,0.4 M855.2,749.7 l0.7,0.3 M387,752 l0.7,0.3 M235.8,754.6 l0.7,0.3 M1172.4,746.8 l11.4,-1.5 M562.1,749.6 l0.7,0.3 M791,748.7 l5.3,0.1 M661.8,747.4 l6.7,1.5 M194.9,752.3 l11.7,0.5 M482.1,749.3 l0.7,0.3 M287,754.7 l6.5,-0.8 M1373.3,746.8 l4.1,0.4 M206.9,752.2 l11.7,-0.3 M511.1,754.5 l0.7,0.3 M155.5,753.4 l7.4,0 M511.5,750.5 l0.7,0.3 M639.9,748.4 l5.8,1.3 M746.5,747.3 l12.2,3.3 M1320,746.4 l6.3,-0.5 M411.2,751.1 l10.7,0.6 M794,750.1 l4.1,0.8 M822.1,749.5 l12.5,1.8 M637.8,750.1 l7.2,-1.6 M1009.6,747 l10.9,0.2 M543.1,752.1 l0.7,0.3 M200.7,752.8 l11.8,3 M1133.2,746.4 l6.1,-1 M674.5,747.8 l0.7,0.3 M866.2,749.3 l7.6,0.4 M508.8,752.5 l9.4,-2.4 M906.4,747 l11.4,-1 M378.2,750.2 l8.7,-0.5 M638.8,747.7 l9.2,-2.1 M1032.3,749.3 l12.4,3.1 M277.6,752.8 l0.7,0.3 M244.7,758.1 l0.7,0.3 M1354.6,754.1 l0.7,0.3 M975,752.5 l0.7,0.3 M561.9,751.3 l7,1.4 M1190.4,746.3 l10.1,-1.7 M1389,748.1 l6.4,-1.1 M1047.4,748.1 l10,-2.3 M766.8,746.8 l8,-0.9 M827.4,750.6 l6.2,1.1 M259.4,750.8 l8.8,0.4 M1241.5,747.4 l10.5,-3 M571.1,750.7 l0.7,0.3 M1293.2,747 l11.4,1.8 M392.5,757.1 l0.7,0.3 M451.6,749.3 l12,3.2 M275.2,758.1 l0.7,0.3 M494.8,750.9 l0.7,0.3 M1355.4,746.2 l9.8,1.1 M539.5,747.6 l4.8,-0.6 M1699.5,752.6 l0.7,0.3 M1293.8,750.6 l11.2,3.2 M1409.1,752 l0.7,0.3 M767.2,751.6 l6.6,-1.8 M510,750.7 l0.7,0.3 M469.6,750 l9,2.3 M177.7,752.8 l4.6,1.1 M1100.3,753.5 l0.7,0.3 M66.1,754.5 l0.7,0.3 M1094.9,745.5 l6.4,-0.9 M1252.7,747.6 l5.4,-0.4 M995.2,750.9 l9.6,1.6 M560.4,756.5 l0.7,0.3 M932.5,749.3 l4.7,0.7 M1252.2,746.4 l9,2.6 M399.7,756.2 l0.7,0.3 M1130.1,745.7 l6.1,0.8 M720.4,754.7 l0.7,0.3 M678.8,751 l0.7,0.3 M391.4,748.7 l4.3,-1.1 M585.7,752.4 l10.4,-1.8 M1023.1,749.6 l0.7,0.3 M780.6,748.1 l5.5,1.4 M1297.1,747.5 l8.4,0.6 M546.8,753.9 l4.7,1.3 M675.9,754.5 l0.7,0.3 M509.2,749.3 l11.6,3.2 M1384.7,750.1 l0.7,0.3 M1347.3,752.9 l0.7,0.3 M535.9,756.7 l0.7,0.3 M1005.9,747.4 l7.6,1.8 M1116.3,747.5 l0.7,0.3 M924.2,755 l0.7,0.3 M495.6,751.7 l12.5,-2.9 M178.2,750.1 l10.2,1.9 M1390.2,747.2 l10.1,1.7 M1216.6,753.2 l0.7,0.3 M1070.4,751.2 l0.7,0.3 M239.7,751.9 l8.1,1.7 M1188.1,750.1 l0.7,0.3 M896.4,747.2 l5.7,-1.1 M944.6,750 l4.9,-0.3 M105.5,752.4 l5.1,1.3 M656.7,751.6 l0.7,0.3" stroke-width="1.1" fill="none" />
<circle cx="748" cy="633.5" r="45" stroke-width="2.0" fill="none" />
<circle cx="748" cy="633.5" r="41" stroke-width="1.0" fill="none" />
<circle cx="748" cy="633.5" r="36" stroke-width="1.1" fill="none" />
<circle cx="748" cy="633.5" r="31" stroke-width="1.1" fill="none" />
<path d="M805,600 L840,600 L840,690 L800,690" stroke-width="1.2" fill="none" />
<path d="M646.5,633.5 a101.5,101.5 0 1,0 203,0 a101.5,101.5 0 1,0 -203,0 Z M755,596.1 L755,564.6 Q755,558.8 764,560.2 A75,75 0 0,1 795.3,575.3 Q802,581.5 797.5,585.1 L772.9,604.7 Q755,619 755,596.1 Z M781.6,615.7 L806.2,596 Q810.7,592.4 815.3,600.4 A75,75 0 0,1 823,634.2 Q822.4,643.3 816.7,642 L786,635 Q763.7,629.9 781.6,615.7 Z M782.9,648.6 L813.6,655.7 Q819.2,656.9 815.9,665.5 A75,75 0 0,1 794.2,692.5 Q786.7,697.7 784.2,692.5 L770.5,664.1 Q760.6,643.6 782.9,648.6 Z M757.9,670.2 L771.6,698.6 Q774.1,703.8 765.3,706.5 A75,75 0 0,1 730.7,706.5 Q721.9,703.8 724.4,698.6 L738.1,670.2 Q748,649.6 757.9,670.2 Z M725.5,664.1 L711.8,692.5 Q709.3,697.7 701.7,692.5 A75,75 0 0,1 680.1,665.4 Q676.8,656.9 682.4,655.6 L713.1,648.6 Q735.4,643.6 725.5,664.1 Z M710,635 L679.3,642 Q673.6,643.3 673,634.1 A75,75 0 0,1 680.7,600.4 Q685.3,592.4 689.8,596 L714.4,615.7 Q732.3,629.9 710,635 Z M723.1,604.7 L698.5,585.1 Q694,581.5 700.7,575.3 A75,75 0 0,1 732,560.2 Q741,558.8 741,564.6 L741,596.1 Q741,619 723.1,604.7 Z" stroke-width="1.5" fill="#fff" fill-rule="evenodd"/>
<circle cx="748" cy="633.5" r="85.2" stroke-width="1.4" fill="none" />
<circle cx="748" cy="633.5" r="82.6" stroke-width="1.1" fill="none" />
<circle cx="748" cy="633.5" r="15.2" stroke-width="1.5" fill="none" />
<polygon points="760,638.5 753,645.5 743,645.5 736,638.5 736,628.5 743,621.5 753,621.5 760,628.5" stroke-width="1.2" fill="none" />
<circle cx="748" cy="633.5" r="10.8" stroke-width="1.5" fill="none" />
<circle cx="748" cy="595.5" r="3.2" stroke-width="1.8" fill="#888" />
<circle cx="748" cy="595.5" r="1.2" stroke-width="0.9" fill="none" />
<circle cx="777.7" cy="609.8" r="3.2" stroke-width="1.8" fill="#888" />
<circle cx="777.7" cy="609.8" r="1.2" stroke-width="0.9" fill="none" />
<circle cx="785" cy="642" r="3.2" stroke-width="1.8" fill="#888" />
<circle cx="785" cy="642" r="1.2" stroke-width="0.9" fill="none" />
<circle cx="764.5" cy="667.7" r="3.2" stroke-width="1.8" fill="#888" />
<circle cx="764.5" cy="667.7" r="1.2" stroke-width="0.9" fill="none" />
<circle cx="731.5" cy="667.7" r="3.2" stroke-width="1.8" fill="#888" />
<circle cx="731.5" cy="667.7" r="1.2" stroke-width="0.9" fill="none" />
<circle cx="711" cy="642" r="3.2" stroke-width="1.8" fill="#888" />
<circle cx="711" cy="642" r="1.2" stroke-width="0.9" fill="none" />
<circle cx="718.3" cy="609.8" r="3.2" stroke-width="1.8" fill="#888" />
<circle cx="718.3" cy="609.8" r="1.2" stroke-width="0.9" fill="none" />
<line x1="742" y1="668" x2="754" y2="668" stroke-width="1.2" />
<line x1="736" y1="676" x2="760" y2="676" stroke-width="1.2" />
<line x1="732" y1="684" x2="764" y2="684" stroke-width="1.2" />
<line x1="728" y1="691" x2="768" y2="691" stroke-width="1.2" />
<line x1="726" y1="697" x2="770" y2="697" stroke-width="1.2" />
<rect x="733" y="700" width="30" height="8" rx="0" stroke-width="1.2" fill="none" />
<path d="M645.6,606.6 L649.4,675.4" stroke-width="7.6" fill="none" />
<path d="M645.6,606.6 L649.4,675.4" stroke-width="5" fill="none" stroke="#fff"/>
<path d="M647,663.8 L671.1,728.3" stroke-width="7.6" fill="none" />
<path d="M647,663.8 L671.1,728.3" stroke-width="5" fill="none" stroke="#fff"/>
<path d="M663.3,720.8 L724.5,740.9" stroke-width="7.6" fill="none" />
<path d="M663.3,720.8 L724.5,740.9" stroke-width="5" fill="none" stroke="#fff"/>
<path d="M712.8,739.1 L780.9,738.3" stroke-width="7.6" fill="none" />
<path d="M712.8,739.1 L780.9,738.3" stroke-width="5" fill="none" stroke="#fff"/>
<path d="M769.8,741.5 L827.8,705.9" stroke-width="7.6" fill="none" />
<path d="M769.8,741.5 L827.8,705.9" stroke-width="5" fill="none" stroke="#fff"/>
<path d="M819.7,714.2 L853.7,654.6" stroke-width="7.6" fill="none" />
<path d="M819.7,714.2 L853.7,654.6" stroke-width="5" fill="none" stroke="#fff"/>
<path d="M850.8,665.8 L848.8,579.3" stroke-width="7.6" fill="none" />
<path d="M850.8,665.8 L848.8,579.3" stroke-width="5" fill="none" stroke="#fff"/>
<path d="M824.6,554.9 L751.1,514" stroke-width="7.6" fill="none" />
<path d="M824.6,554.9 L751.1,514" stroke-width="5" fill="none" stroke="#fff"/>
<path d="M734.4,516.3 L665.5,564.1" stroke-width="7.6" fill="none" />
<path d="M734.4,516.3 L665.5,564.1" stroke-width="5" fill="none" stroke="#fff"/>
<path d="M673,555.3 L643.3,618" stroke-width="7.6" fill="none" />
<path d="M673,555.3 L643.3,618" stroke-width="5" fill="none" stroke="#fff"/>
<circle cx="645.9" cy="612.6" r="3.4" stroke-width="1.4" fill="#fff" />
<circle cx="645.9" cy="612.6" r="1.3" stroke-width="1.0" fill="none" />
<circle cx="649.1" cy="669.4" r="3.4" stroke-width="1.4" fill="#fff" />
<circle cx="649.1" cy="669.4" r="1.3" stroke-width="1.0" fill="none" />
<circle cx="669" cy="722.7" r="3.4" stroke-width="1.4" fill="#fff" />
<circle cx="669" cy="722.7" r="1.3" stroke-width="1.0" fill="none" />
<circle cx="718.8" cy="739" r="3.4" stroke-width="1.4" fill="#fff" />
<circle cx="718.8" cy="739" r="1.3" stroke-width="1.0" fill="none" />
<circle cx="774.9" cy="738.4" r="3.4" stroke-width="1.4" fill="#fff" />
<circle cx="774.9" cy="738.4" r="1.3" stroke-width="1.0" fill="none" />
<circle cx="822.7" cy="709" r="3.4" stroke-width="1.4" fill="#fff" />
<circle cx="822.7" cy="709" r="1.3" stroke-width="1.0" fill="none" />
<circle cx="850.7" cy="659.8" r="3.4" stroke-width="1.4" fill="#fff" />
<circle cx="850.7" cy="659.8" r="1.3" stroke-width="1.0" fill="none" />
<circle cx="849.3" cy="601.3" r="3.4" stroke-width="1.4" fill="#fff" />
<circle cx="849.3" cy="601.3" r="1.3" stroke-width="1.0" fill="none" />
<circle cx="819.4" cy="552" r="3.4" stroke-width="1.4" fill="#fff" />
<circle cx="819.4" cy="552" r="1.3" stroke-width="1.0" fill="none" />
<circle cx="770.3" cy="524.7" r="3.4" stroke-width="1.4" fill="#fff" />
<circle cx="770.3" cy="524.7" r="1.3" stroke-width="1.0" fill="none" />
<circle cx="714.7" cy="530" r="3.4" stroke-width="1.4" fill="#fff" />
<circle cx="714.7" cy="530" r="1.3" stroke-width="1.0" fill="none" />
<circle cx="670.4" cy="560.7" r="3.4" stroke-width="1.4" fill="#fff" />
<circle cx="670.4" cy="560.7" r="1.3" stroke-width="1.0" fill="none" />
<path d="M645,718 L688.8,734.3" stroke-width="7.6" fill="none" />
<path d="M645,718 L688.8,734.3" stroke-width="5" fill="none" stroke="#fff"/>
<path d="M806.3,724.7 L846,700" stroke-width="7.6" fill="none" />
<path d="M806.3,724.7 L846,700" stroke-width="5" fill="none" stroke="#fff"/>
<path d="M636,646.8 L654,692" stroke-width="7.6" fill="none" />
<path d="M636,646.8 L654,692" stroke-width="5" fill="none" stroke="#fff"/>
<path d="M638,596 L641,640" stroke-width="6.6" fill="none" />
<path d="M638,596 L641,640" stroke-width="4" fill="none" stroke="#fff"/>
<rect x="695" y="740.5" width="105" height="4" rx="0" stroke-width="1.3" fill="#fff" />
<path d="M790,526 L800,535 Q815,545 822,560" stroke-width="1.2" fill="none" />
<path d="M694,526.5 L694,548 M680,520 L680,545 L694,548" stroke-width="1.2" fill="none" />
<path d="M883.8,482.6 L893.6,577 L872,577 M893.6,577 L927,577" stroke-width="1.3" fill="none" />
<path d="M680,500.5 L783,496.4 Q795,493 805,490" stroke-width="1.2" fill="none" />
<circle cx="856.5" cy="534.8" r="32.3" stroke-width="1.5" fill="#fff" />
<circle cx="856.5" cy="534.8" r="29.5" stroke-width="1.0" fill="none" />
<circle cx="833.9" cy="526.6" r="2.6" stroke-width="1.2" fill="none" />
<circle cx="848.3" cy="512.2" r="2.6" stroke-width="1.2" fill="none" />
<circle cx="868.5" cy="514" r="2.6" stroke-width="1.2" fill="none" />
<circle cx="879.1" cy="526.6" r="2.6" stroke-width="1.2" fill="none" />
<circle cx="877.3" cy="546.8" r="2.6" stroke-width="1.2" fill="none" />
<circle cx="862.7" cy="558" r="2.6" stroke-width="1.2" fill="none" />
<text x="845" y="529.5" class="label" font-size="6" stroke="none" fill="#151515" textLength="24" lengthAdjust="spacingAndGlyphs" style="font-style:normal">W.C.DOR</text>
<text x="843" y="537" class="label" font-size="6" stroke="none" fill="#151515" textLength="26" lengthAdjust="spacingAndGlyphs" style="font-style:normal">BICT.EDU</text>
<text x="845" y="544.5" class="label" font-size="6" stroke="none" fill="#151515" textLength="24" lengthAdjust="spacingAndGlyphs" style="font-style:normal">MT.NAUX</text>
<rect x="810" y="480" width="13.3" height="7.5" rx="0" stroke-width="1.4" fill="#fff" />
<rect x="870" y="480" width="13.3" height="7.5" rx="0" stroke-width="1.4" fill="#fff" />
<polygon points="833,452 851.7,463.3 858.3,481.7 836,494 825,477 825,462" stroke-width="1.4" fill="#fff" />
<path d="M825,476 Q836,463 851.7,464" stroke-width="1.3" fill="none" />
<path d="M834,452 L834,458 Q838,461 834.5,466 L830,466" stroke-width="1.2" fill="none" />
<line x1="843" y1="479" x2="845" y2="476" stroke-width="1.4" />
<circle cx="856.7" cy="468.3" r="4.3" stroke-width="1.8" fill="#fff" />
<circle cx="856.7" cy="468.3" r="1.6" stroke-width="1.2" fill="none" />
<circle cx="871.7" cy="468.3" r="3.4" stroke-width="2.2" fill="#fff" />
<line x1="875" y1="473" x2="879" y2="480" stroke-width="1.3" />
<circle cx="816.7" cy="463.3" r="3.5" stroke-width="1.5" fill="#fff" />
<line x1="816.7" y1="467" x2="816.7" y2="480" stroke-width="3" />
<line x1="816.7" y1="467" x2="816.7" y2="480" stroke-width="1.1" stroke="#fff"/>
<rect x="824" y="446" width="16" height="5.5" rx="0" stroke-width="1.8" fill="#fff" />
<line x1="828.3" y1="427" x2="828.3" y2="446" stroke-width="3.2" />
<line x1="828.3" y1="427" x2="828.3" y2="446" stroke-width="1.0" stroke="#fff"/>
<rect x="825" y="421.7" width="18" height="5" rx="0" stroke-width="1.8" fill="#fff" />
<path d="M822,424 Q820,428 826,429" stroke-width="1.4" fill="none" />
<line x1="828" y1="451.5" x2="828" y2="466" stroke-width="1.3" />
<circle cx="839.4" cy="522.2" r="25.8" stroke-width="1.6" fill="none" />
<circle cx="839.4" cy="522.2" r="22.6" stroke-width="1.4" fill="none" />
<line x1="816.5" y1="522.5" x2="862.5" y2="522.5" stroke-width="2.4" />
<line x1="839.4" y1="499.5" x2="839.4" y2="545" stroke-width="2.4" />
<circle cx="839.4" cy="522.2" r="2.5" stroke-width="1.2" fill="#fff" />
<circle cx="839.4" cy="547" r="2.6" stroke-width="1.2" fill="#fff" />
<path d="M794,525 Q792,532 797,537 M800,515 Q806,508 815,512" stroke-width="1.3" fill="none" />
<circle cx="805.5" cy="520.3" r="3.2" stroke-width="1.3" fill="#fff" />
<rect x="904" y="519.6" width="4" height="51" rx="2" stroke-width="1.2" fill="#fff" />
<rect x="893" y="537" width="18" height="10" rx="0" stroke-width="1.2" fill="none" />
<circle cx="912" cy="542" r="2" stroke-width="1.1" fill="none" />
<path d="M890,560 L920,560 M890,566 L918,566 L918,574 M897,576 Q905,583 915,575" stroke-width="1.2" fill="none" />
<path d="M1500.7,689 L1496,736 M1511,690 L1506,736" stroke-width="1.3" fill="none" />
<path d="M1495,688 Q1500,684 1512,686" stroke-width="1.3" fill="none" />
<path d="M1452,674 L1488,681 L1488,688 L1452,681 Z" stroke-width="1.3" fill="#fff" />
<path d="M1502,663.3 L1521,676.6" stroke-width="7.6" fill="none" />
<path d="M1502,663.3 L1521,676.6" stroke-width="5" fill="none" stroke="#fff"/>
<path d="M1540.4,674 L1563.3,662" stroke-width="7.6" fill="none" />
<path d="M1540.4,674 L1563.3,662" stroke-width="5" fill="none" stroke="#fff"/>
<circle cx="1521" cy="677" r="4.5" stroke-width="1.3" fill="#fff" />
<circle cx="1541" cy="677" r="4" stroke-width="1.3" fill="#fff" />
<path d="M1532,690 Q1528,675 1540,672 Q1550,676 1545,692" stroke-width="1.3" fill="none" />
<path d="M1515,690 L1545,696 L1566,700 L1566,713" stroke-width="1.2" fill="none" />
<path d="M1572,684.8 L1641,684.8" stroke-width="6.6" fill="none" />
<path d="M1572,684.8 L1641,684.8" stroke-width="4" fill="none" stroke="#fff"/>
<circle cx="1641" cy="684.8" r="3" stroke-width="1.3" fill="#fff" />
<path d="M1568,680 L1580,680 L1580,695 L1568,695 Z" stroke-width="1.3" fill="#fff" />
<path d="M1590,688 L1590,708 M1602,688 Q1596,695 1604,708" stroke-width="1.2" fill="none" />
<path d="M1570,706 L1618,706 L1622,712 L1622,736 L1595,736 L1595,714 L1570,714 Z" stroke-width="1.3" fill="#fff" />
<line x1="1599" y1="712" x2="1599" y2="736" stroke-width="2.6" />
<circle cx="1578" cy="716" r="2" stroke-width="1" fill="none" />
<path d="M1565,703 L1556,736 M1573,705 L1565,736" stroke-width="1.3" fill="none" />
<path d="M1484,736 L1557,736 L1565,731.5 L1598,731.5 L1606,738 L1634,738 L1636,743 L1484,743 Z" stroke-width="1.3" fill="#fff" />
<path d="M1636,742 Q1648,741 1653,733 L1656,735 Q1651,745 1638,745" stroke-width="1.3" fill="none" />
<rect x="1511" y="743.6" width="121.5" height="11" rx="0" stroke-width="1.4" fill="#fff" />
<circle cx="1516" cy="749.5" r="2.1" stroke-width="1.1" fill="none" />
<circle cx="1526.8" cy="749.5" r="2.1" stroke-width="1.1" fill="none" />
<circle cx="1537.6" cy="749.5" r="2.1" stroke-width="1.1" fill="none" />
<circle cx="1548.4" cy="749.5" r="2.1" stroke-width="1.1" fill="none" />
<circle cx="1559.2" cy="749.5" r="2.1" stroke-width="1.1" fill="none" />
<circle cx="1570" cy="749.5" r="2.1" stroke-width="1.1" fill="none" />
<circle cx="1580.8" cy="749.5" r="2.1" stroke-width="1.1" fill="none" />
<circle cx="1591.6" cy="749.5" r="2.1" stroke-width="1.1" fill="none" />
<circle cx="1602.4" cy="749.5" r="2.1" stroke-width="1.1" fill="none" />
<circle cx="1613.2" cy="749.5" r="2.1" stroke-width="1.1" fill="none" />
<circle cx="1624" cy="749.5" r="2.1" stroke-width="1.1" fill="none" />
<path d="M1456.4,742.8 Q1455,750 1458,758 Q1462,790 1465,800 Q1470,815 1480,825 Q1495,840 1500,845 L1514,860 Q1522,867 1530,865 Q1545,858 1552,848" stroke-width="1.6" fill="none" />
<path d="M1456.4,742.8 L1508,743 L1508,762 Q1506,766 1498,766 L1486,767" stroke-width="1.4" fill="none" />
<polygon points="1485.6,768 1503.8,768 1511,845.7 1500,845.7" stroke-width="1.3" fill="#fff" />
<polygon points="1532,776.5 1546.4,774 1553.6,845.7 1540.4,845.7" stroke-width="1.3" fill="#fff" />
<circle cx="1492" cy="773" r="2" stroke-width="1.0" fill="none" />
<circle cx="1498" cy="778" r="1.8" stroke-width="1.0" fill="none" />
<circle cx="1493.6" cy="785.5" r="2" stroke-width="1.0" fill="none" />
<circle cx="1499.6" cy="790.5" r="1.8" stroke-width="1.0" fill="none" />
<circle cx="1495.2" cy="798" r="2" stroke-width="1.0" fill="none" />
<circle cx="1501.2" cy="803" r="1.8" stroke-width="1.0" fill="none" />
<circle cx="1496.8" cy="810.5" r="2" stroke-width="1.0" fill="none" />
<circle cx="1502.8" cy="815.5" r="1.8" stroke-width="1.0" fill="none" />
<circle cx="1498.4" cy="823" r="2" stroke-width="1.0" fill="none" />
<circle cx="1504.4" cy="828" r="1.8" stroke-width="1.0" fill="none" />
<circle cx="1500" cy="835.5" r="2" stroke-width="1.0" fill="none" />
<circle cx="1506" cy="840.5" r="1.8" stroke-width="1.0" fill="none" />
<circle cx="1537" cy="785" r="1.9" stroke-width="1.0" fill="none" />
<circle cx="1542" cy="790" r="1.8" stroke-width="1.0" fill="none" />
<circle cx="1538.8" cy="796.5" r="1.9" stroke-width="1.0" fill="none" />
<circle cx="1543.8" cy="801.5" r="1.8" stroke-width="1.0" fill="none" />
<circle cx="1540.6" cy="808" r="1.9" stroke-width="1.0" fill="none" />
<circle cx="1545.6" cy="813" r="1.8" stroke-width="1.0" fill="none" />
<circle cx="1542.4" cy="819.5" r="1.9" stroke-width="1.0" fill="none" />
<circle cx="1547.4" cy="824.5" r="1.8" stroke-width="1.0" fill="none" />
<circle cx="1544.2" cy="831" r="1.9" stroke-width="1.0" fill="none" />
<circle cx="1549.2" cy="836" r="1.8" stroke-width="1.0" fill="none" />
<path d="M1591,750 Q1560,765 1545,785 Q1525,810 1511,845.7" stroke-width="2.2" fill="none" />
<path d="M1633,744 Q1605,760 1585,780 Q1565,805 1554.8,845.7" stroke-width="2.2" fill="none" />
<path d="M1455.7,771.6 l4.5,-0.2 M1456,771.7 l4.7,0.1 M1456.8,778 l6.3,-1.2 M1453.5,750.8 l6.5,-2.7 M1458.9,799.6 l7.7,0.7 M1453.9,753.8 l0.1,-2.6 M1454.1,753.6 l1.9,-0.2 M1455.6,769.3 l6.7,0.8 M1456,772.3 l5.3,-1.3 M1477,831.3 l8,1.2 M1464.7,808.6 l1.8,-2.6 M1472.8,824.4 l3.2,-0.7 M1476.2,826.7 l6.8,-1.7 M1475.4,829.2 l3.8,-0.6 M1460.3,803.3 l5,-1.4 M1460.6,804.5 l2.7,1.5 M1461.1,801.9 l2,-2.6 M1473.3,824.1 l1.4,-0.3 M1483.7,834.6 l5.9,0.9 M1481.1,832.6 l3.4,-1.4 M1511,860.3 l6.4,2.3 M1484.4,838.2 l3.2,0.9 M1480.5,832.1 l7.9,-1.5 M1504,853.9 l2.6,-2.6 M1480.2,831.9 l4.7,0.6 M1490,843.7 l3.6,-0.1 M1497.1,847.1 l6.9,-2.1 M1530.2,864.6 l6.5,-1.9 M1526.8,863.7 l7.5,2.7 M1529.6,865.2 l4.8,-2.4 M1512.8,861.1 l7.7,1.2 M1517.1,863.4 l6.6,-1.2 M1515.5,861 l5.8,-1.6 M1523.2,864.7 l6.8,-1.3 M1530.3,863.7 l1.6,-1.4 M1520.9,862.5 l0.5,-0.8 M1543.4,853.4 l1.1,2.3 M1551.6,846.2 l5.3,0.5 M1534.8,861.1 l0.3,2.5 M1546,849.4 l7.7,0.8 M1541.6,855.1 l5.8,3 M1533.5,865.4 l4.4,2.4 M1546.7,851.7 l5.6,2.5 M1539,860.2 l5.5,2.2 M1540.3,858.7 l6.3,0.4 M1564.5,814.1 l3.1,0.7 M1553.6,843 l5.1,2.3 M1566.6,809.5 l3.1,0.5 M1560.8,821.3 l6.7,1.5 M1552.6,843.4 l4.8,-1.6 M1566,810.5 l4,2.5 M1557.1,831.4 l0.1,1.1 M1556.1,836.5 l1.4,1 M1560.8,822.2 l7.1,1 M1577,790.3 l3.4,2.5 M1594,768.9 l3.1,-1.1 M1575.4,792.3 l4,2.1 M1589.8,772.8 l7.6,-2 M1583.3,780.3 l2.2,-0.5 M1587.6,775.5 l4,2 M1596.6,763.8 l3.6,-2.8 M1593.8,769.6 l0.3,0.4 M1579.7,783.8 l6.3,-2.2 M1615.2,757.7 l0.2,-1.6 M1602.6,762.8 l0.4,-0.3 M1622.2,754.3 l5.2,2.8 M1624.4,751.9 l1.6,-1.9 M1597.4,765.7 l3.8,-1.9 M1607.9,760.6 l2.8,0.1 M1621.6,752.9 l6,1.8 M1633.2,749.5 l0.7,1.3 M1602.2,763 l3.6,2.5" stroke-width="0.9" fill="none" />
<path d="M1447.6,759.4 l0.6,0.4 M1451.1,763.6 l0.6,0.4 M1454.6,796.4 l0.6,0.4 M1461.3,805.4 l0.6,0.4 M1459.9,772 l1.7,3.6 M1459.9,806.8 l0.6,0.4 M1451.5,756.8 l0.6,0.4 M1468.2,827.6 l0.6,0.4 M1453.8,802.9 l0.6,0.4 M1449.6,747.7 l3,2.7 M1472.7,833 l2.3,3.3 M1463,818.2 l3,2.6 M1469.4,830.4 l0.6,0.4 M1446.1,796.5 l0.6,0.4 M1452.1,750.1 l2.5,3.1 M1449.6,793.7 l0.6,0.4 M1453.2,804.5 l0.6,0.4 M1445.2,767.9 l0.6,0.4 M1456.3,805.7 l0.6,0.4 M1463.7,820.9 l2.1,3.4 M1469.1,829.5 l1.5,3.7 M1459.2,802.1 l0.6,0.4 M1451.4,770.1 l0.6,0.4 M1463.4,819.7 l3.2,2.4 M1449.5,774.8 l0.6,0.4 M1445,757.1 l2,3.5 M1453.9,800.1 l0.6,0.4 M1462.5,816.4 l1.9,3.5 M1463,827.2 l0.6,0.4 M1463.1,829.1 l0.6,0.4 M1466.2,819.7 l3.3,2.3 M1453.1,800.5 l0.6,0.4 M1443.9,775.7 l3.1,2.5 M1449.1,755.6 l0.6,0.4 M1451.9,757.5 l0.6,0.4 M1453.8,801.9 l0.6,0.4 M1450.3,765 l2.4,3.2 M1446.7,745.1 l1.9,3.5 M1447,746.1 l3,2.6 M1459.9,818.5 l0.6,0.4 M1470.5,841.8 l2.9,2.8 M1493.2,858.7 l0.6,0.4 M1501.2,863 l2.8,2.8 M1508.2,864.8 l0.6,0.4 M1521.7,866.6 l0.6,0.4 M1530.5,868.6 l0.6,0.4 M1519.1,864.2 l3.3,2.3 M1505.3,865.3 l0.6,0.4 M1494.2,858 l0.6,0.4 M1483.3,846.6 l2.6,3.1 M1481.6,852.4 l1.5,3.7 M1471.7,843.3 l1.7,3.6 M1513.2,863.5 l1.8,3.6 M1511,863.6 l2.7,3 M1510.4,857.8 l3.3,2.3 M1487.6,856.1 l0.6,0.4 M1505.4,863 l2,3.5 M1503.6,863.3 l3,2.6 M1487.3,851.8 l0.6,0.4 M1526.1,869.7 l3.1,-2.6 M1512.1,868.2 l0.6,0.4 M1495.9,855.4 l0.6,0.4 M1506.7,865.1 l0.6,0.4 M1489.2,858 l0.6,0.4 M1522.9,865.4 l0.6,0.4 M1504.1,861.4 l2.9,2.7 M1469.2,838.1 l0.6,0.4 M1499.5,857.6 l0.6,0.4 M1519.1,863.9 l0.6,0.4 M1478.1,850 l0.6,0.4 M1521.9,862.1 l3.3,2.3 M1510.6,865.4 l2,3.5 M1486.4,849.9 l2.3,3.3 M1499.1,857.4 l0.6,0.4 M1489.9,858.8 l3.2,2.4 M1469.6,841.6 l0.6,0.4 M1487,852.3 l0.6,0.4 M1509.8,863.7 l0.6,0.4 M1522.9,867.2 l2,3.4 M1506.4,863.4 l0.6,0.4 M1530.2,869.3 l3,-2.6 M1564.8,828.5 l1.9,-3.5 M1573.6,808.4 l1.7,-3.6 M1565.3,838.6 l0.6,0.4 M1580.8,804.5 l0.6,0.4 M1546.5,851.4 l2.2,-3.3 M1542.7,861.4 l3,-2.6 M1573,798.8 l1.7,-3.6 M1552.8,854.3 l0.6,0.4 M1560,839.5 l0.6,0.4 M1528.1,868.8 l0.6,0.4 M1565,833.3 l2.4,-3.2 M1572.6,811 l0.6,0.4 M1550,846.1 l2.2,-3.3 M1541.8,859.8 l0.6,0.4 M1541.9,857.5 l0.6,0.4 M1566.6,815.8 l2,-3.4 M1575.6,802.5 l0.6,0.4 M1561.1,830.6 l3,-2.6 M1542.5,855.4 l0.6,0.4 M1529.4,869.8 l0.6,0.4 M1551.9,849.3 l0.6,0.4 M1569.1,826.7 l0.6,0.4 M1545.3,854.5 l3,-2.6 M1573.2,815.1 l0.6,0.4 M1566.6,838.4 l0.6,0.4 M1564.8,832.4 l0.6,0.4 M1556.4,843 l2.8,-2.9 M1562.6,834.6 l0.6,0.4 M1532.4,863.9 l0.6,0.4 M1573.2,812.1 l2.3,-3.3 M1546.6,848.2 l0.6,0.4 M1561.4,832.7 l0.6,0.4 M1566.3,822.4 l0.6,0.4 M1543,859.6 l2.6,-3.1 M1539.3,858.5 l0.6,0.4 M1559.3,849 l0.6,0.4 M1548.6,855.7 l0.6,0.4 M1534.7,859.7 l0.6,0.4 M1535.1,864.3 l0.6,0.4 M1628.3,757.9 l0.6,0.4 M1581.8,796.8 l0.6,0.4 M1582.6,782.6 l0.6,0.4 M1621.2,758.5 l0.6,0.4 M1637.9,752 l0.6,0.4 M1609.9,763.9 l0.6,0.4 M1587.4,785.8 l1.9,-3.5 M1621.6,755.6 l0.6,0.4 M1617,756.3 l3.2,-2.4 M1594.4,780.4 l2,-3.5 M1584.2,789.8 l2.6,-3 M1584.8,786.4 l0.6,0.4 M1618.5,755.1 l0.6,0.4 M1597.9,777.1 l0.6,0.4 M1597.3,781.5 l0.6,0.4 M1589.3,785.4 l2.8,-2.9 M1619.5,761.8 l0.6,0.4 M1621.9,754.8 l0.6,0.4 M1615.3,758.3 l0.6,0.4 M1599.1,773.5 l0.6,0.4 M1620.6,753.9 l1.7,-3.6 M1592.5,781.8 l0.6,0.4 M1649.1,748.9 l2.9,-2.8 M1592.1,777.2 l1.9,-3.5 M1641.6,747.1 l2.5,-3.1 M1613.9,756.1 l2.6,-3 M1618.2,759.6 l0.6,0.4 M1585.4,789.6 l0.6,0.4 M1631.3,755.2 l0.6,0.4 M1605.8,768.5 l2.6,-3 M1598.4,771.4 l0.6,0.4 M1626.1,750.7 l0.6,0.4 M1613.7,763.7 l3.1,-2.5 M1598.2,774.6 l1.8,-3.5 M1591.7,779.5 l0.6,0.4 M1584.4,788.8 l0.6,0.4 M1632.6,755.4 l0.6,0.4 M1637.5,747.9 l0.6,0.4 M1632.6,757.5 l0.6,0.4 M1590.8,783.9 l1.8,-3.6" stroke-width="1.1" fill="none" />
<path d="M1640,746 L1700,748" stroke-width="0.9" fill="none" stroke-dasharray="3 3"/>
<path d="M1638,755 Q1660,748 1690,740" stroke-width="1.0" fill="none" />
<text x="819" y="347.7" class="label" font-size="7.2" stroke="none" fill="#151515" textLength="46.5" lengthAdjust="spacingAndGlyphs" >COLLIMATOR</text>
<polyline points="837.4,350 837.4,421" stroke-width="1.3" fill="none" stroke-dasharray="3.2 2.6"/>
<text x="764" y="385.7" class="label" font-size="7.2" stroke="none" fill="#151515" textLength="45.4" lengthAdjust="spacingAndGlyphs" >GONIOMETER</text>
<polyline points="788,388 788,436.5 826,436.5" stroke-width="1.3" fill="none" stroke-dasharray="3.2 2.6"/>
<text x="881" y="384.7" class="label" font-size="7.2" stroke="none" fill="#151515" textLength="55" lengthAdjust="spacingAndGlyphs" >SIGHT HOUSING</text>
<polyline points="907.2,384 852.2,464.3" stroke-width="1.3" fill="none" stroke-dasharray="3.2 2.6"/>
<text x="952.6" y="348.2" class="label" font-size="7.2" stroke="none" fill="#151515" textLength="85" lengthAdjust="spacingAndGlyphs" >SIGHTING GEAR CASING</text>
<polyline points="967.3,349.2 888.9,513.2" stroke-width="1.3" fill="none" stroke-dasharray="3.2 2.6"/>
<text x="968" y="412.7" class="label" font-size="7.2" stroke="none" fill="#151515" textLength="93" lengthAdjust="spacingAndGlyphs" >TRAVERSING HAND WHEEL</text>
<polyline points="985.7,413.4 909.3,535.6" stroke-width="1.3" fill="none" stroke-dasharray="3.2 2.6"/>
<text x="1131.6" y="351.1" class="label" font-size="6.5" stroke="none" fill="#151515" textLength="44.4" lengthAdjust="spacingAndGlyphs" >COUNTERPOISE</text>
<text x="1128.7" y="359.7" class="label" font-size="6.5" stroke="none" fill="#151515" textLength="43.3" lengthAdjust="spacingAndGlyphs" >SPRING ROD</text>
<polyline points="1158.7,362 1158.7,433" stroke-width="1.3" fill="none" stroke-dasharray="3.2 2.6"/>
<text x="1084" y="387.3" class="label" font-size="6.5" stroke="none" fill="#151515" textLength="50.5" lengthAdjust="spacingAndGlyphs" >COUNTERPOISE</text>
<text x="1091" y="396" class="label" font-size="6.5" stroke="none" fill="#151515" textLength="35" lengthAdjust="spacingAndGlyphs" >CYLINDER</text>
<polyline points="1106.5,400 1106.5,433" stroke-width="1.3" fill="none" stroke-dasharray="3.2 2.6"/>
<text x="1207" y="385.7" class="label" font-size="7.2" stroke="none" fill="#151515" textLength="87" lengthAdjust="spacingAndGlyphs" >OPERATING LEVER HANDLE</text>
<polyline points="1220,388 1202,430" stroke-width="1.3" fill="none" stroke-dasharray="3.2 2.6"/>
<text x="1288.5" y="435.9" class="label" font-size="7.2" stroke="none" fill="#151515" textLength="54.2" lengthAdjust="spacingAndGlyphs" >BREECH BLOCK</text>
<polyline points="1286,434 1234,475" stroke-width="1.3" fill="none" stroke-dasharray="3.2 2.6"/>
<text x="426.9" y="412.7" class="label" font-size="7.2" stroke="none" fill="#151515" textLength="73" lengthAdjust="spacingAndGlyphs" >AUTOMATIC FILLER</text>
<polyline points="502,412 680,502" stroke-width="1.3" fill="none" stroke-dasharray="3.2 2.6"/>
<text x="570.8" y="413.7" class="label" font-size="7.2" stroke="none" fill="#151515" textLength="27.2" lengthAdjust="spacingAndGlyphs" >CRADLE</text>
<polyline points="600,413 735,505" stroke-width="1.3" fill="none" stroke-dasharray="3.2 2.6"/>
<text x="658.5" y="416.3" class="label" font-size="7.2" stroke="none" fill="#151515" textLength="83.2" lengthAdjust="spacingAndGlyphs" >ELEVATING HAND WHEEL</text>
<polyline points="742,416 830,525" stroke-width="1.3" fill="none" stroke-dasharray="3.2 2.6"/>
<text x="436" y="531.7" class="label" font-size="7.2" stroke="none" fill="#151515" textLength="31" lengthAdjust="spacingAndGlyphs" >CLIP GIB</text>
<polyline points="469,529 508,508" stroke-width="1.3" fill="none" stroke-dasharray="3.2 2.6"/>
<text x="436.3" y="563.4" class="label" font-size="7.2" stroke="none" fill="#151515" textLength="90.4" lengthAdjust="spacingAndGlyphs" >CATERPILLAR BAND SHOE</text>
<polyline points="530,561 660,571" stroke-width="1.3" fill="none" stroke-dasharray="3.2 2.6"/>
<text x="436" y="596" class="label" font-size="7.2" stroke="none" fill="#151515" textLength="106" lengthAdjust="spacingAndGlyphs" >CATERPILLAR BAND SEGMENT</text>
<polyline points="545,593 662,587" stroke-width="1.3" fill="none" stroke-dasharray="3.2 2.6"/>
<text x="437.8" y="627.1" class="label" font-size="7.2" stroke="none" fill="#151515" textLength="59.2" lengthAdjust="spacingAndGlyphs" >BRAKE ROCKER</text>
<polyline points="500,624 690,610" stroke-width="1.3" fill="none" stroke-dasharray="3.2 2.6"/>
<text x="437" y="659.7" class="label" font-size="7.2" stroke="none" fill="#151515" textLength="97" lengthAdjust="spacingAndGlyphs" >UPPER BRAKE BAND END</text>
<polyline points="536,657 695,618" stroke-width="1.3" fill="none" stroke-dasharray="3.2 2.6"/>
<text x="438" y="690.1" class="label" font-size="7.2" stroke="none" fill="#151515" textLength="17.5" lengthAdjust="spacingAndGlyphs" >LINK</text>
<polyline points="457,687 690,656" stroke-width="1.3" fill="none" stroke-dasharray="3.2 2.6"/>
<text x="1280" y="535.7" class="label" font-size="7.2" stroke="none" fill="#151515" textLength="103" lengthAdjust="spacingAndGlyphs" >RECOIL AND COUNTER-RECOIL</text>
<text x="1287" y="546.7" class="label" font-size="7.2" stroke="none" fill="#151515" textLength="60" lengthAdjust="spacingAndGlyphs" >PISTON ROD NUTS</text>
<polyline points="1276,533 1205,533 1165,538" stroke-width="1.3" fill="none" stroke-dasharray="3.2 2.6"/>
<polyline points="1205,533 1168,552" stroke-width="1.3" fill="none" stroke-dasharray="3.2 2.6"/>
<text x="1187.4" y="603.1" class="label" font-size="7.2" stroke="none" fill="#151515" textLength="25.6" lengthAdjust="spacingAndGlyphs" >CRADLE</text>
<polyline points="1185,598 1000,530" stroke-width="1.3" fill="none" stroke-dasharray="3.2 2.6"/>
<text x="1284.6" y="579.7" class="label" font-size="7.2" stroke="none" fill="#151515" textLength="64.8" lengthAdjust="spacingAndGlyphs" >TRANSLATING RACK</text>
<polyline points="1284,578 1225,630" stroke-width="1.3" fill="none" stroke-dasharray="3.2 2.6"/>
<text x="1386.5" y="609.7" class="label" font-size="7.2" stroke="none" fill="#151515" textLength="78" lengthAdjust="spacingAndGlyphs" >TRAVELING BAR CLIP</text>
<polyline points="1385,608 1292,636" stroke-width="1.3" fill="none" stroke-dasharray="3.2 2.6"/>
<text x="1525.7" y="584.5" class="label" font-size="7.2" stroke="none" fill="#151515" textLength="113" lengthAdjust="spacingAndGlyphs" >TRAIL CLAMPING TRANSOM STOP</text>
<polyline points="1526,585 1459,679" stroke-width="1.3" fill="none" stroke-dasharray="3.2 2.6"/>
<text x="1610" y="622.7" class="label" font-size="7.2" stroke="none" fill="#151515" textLength="58.6" lengthAdjust="spacingAndGlyphs" >SPADE CLAMPING</text>
<text x="1613" y="632.4" class="label" font-size="7.2" stroke="none" fill="#151515" textLength="30" lengthAdjust="spacingAndGlyphs" >TRANSOM</text>
<polyline points="1610,624 1545.7,684.8" stroke-width="1.3" fill="none" stroke-dasharray="3.2 2.6"/>
<text x="1647.7" y="670.7" class="label" font-size="7.2" stroke="none" fill="#151515" textLength="48.3" lengthAdjust="spacingAndGlyphs" >SPADE CLAMP</text>
<text x="1655" y="681.7" class="label" font-size="7.2" stroke="none" fill="#151515" textLength="19" lengthAdjust="spacingAndGlyphs" >BOLT</text>
<polyline points="1660,683 1598.5,707.5" stroke-width="1.3" fill="none" stroke-dasharray="3.2 2.6"/>
<text x="1650" y="707.1" class="label" font-size="7.2" stroke="none" fill="#151515" textLength="48.7" lengthAdjust="spacingAndGlyphs" >REAR SPADE</text>
<text x="1641" y="717.5" class="label" font-size="7.2" stroke="none" fill="#151515" textLength="73" lengthAdjust="spacingAndGlyphs" >CLAMP BOLT HINGE</text>
<polyline points="1648,707 1595,721" stroke-width="1.3" fill="none" stroke-dasharray="3.2 2.6"/>
<text x="1678.7" y="765" class="label" font-size="7.2" stroke="none" fill="#151515" textLength="45.3" lengthAdjust="spacingAndGlyphs" >RECOIL STOP</text>
<polyline points="1676,762 1653,751" stroke-width="1.3" fill="none" stroke-dasharray="3.2 2.6"/>
<text x="1640.4" y="788.3" class="label" font-size="7.2" stroke="none" fill="#151515" textLength="51.6" lengthAdjust="spacingAndGlyphs" >SHARE BRACE</text>
<polyline points="1638,785 1564,772" stroke-width="1.3" fill="none" stroke-dasharray="3.2 2.6"/>
<text x="1635" y="830.2" class="label" font-size="7.2" stroke="none" fill="#151515" textLength="22" lengthAdjust="spacingAndGlyphs" >SHARE</text>
<polyline points="1633,828 1524.7,828.7" stroke-width="1.3" fill="none" stroke-dasharray="3.2 2.6"/>
<text x="826.4" y="817.9" class="label" font-size="7.2" stroke="none" fill="#151515" textLength="81" lengthAdjust="spacingAndGlyphs" >TRAIL HINGE PIN NUT</text>
<polyline points="858,807 884,700" stroke-width="1.3" fill="none" stroke-dasharray="3.2 2.6"/>
<text x="988" y="817.7" class="label" font-size="7.2" stroke="none" fill="#151515" textLength="81" lengthAdjust="spacingAndGlyphs" >LONGITUDINAL CABLE</text>
<polyline points="1023,806 1000,645" stroke-width="1.3" fill="none" stroke-dasharray="3.2 2.6"/>
<text x="1166.6" y="817.7" class="label" font-size="7.2" stroke="none" fill="#151515" textLength="21.4" lengthAdjust="spacingAndGlyphs" >TRAIL</text>
<polyline points="1175,806 1155,650" stroke-width="1.3" fill="none" stroke-dasharray="3.2 2.6"/>
<text x="1292" y="817.7" class="label" font-size="7.2" stroke="none" fill="#151515" textLength="54.6" lengthAdjust="spacingAndGlyphs" >LIMBER STOP</text>
<polyline points="1320,806 1360,730" stroke-width="1.3" fill="none" stroke-dasharray="3.2 2.6"/>
<path d="M1251.7,1051.5 L1251.7,879 L1460.7,877.5 L1731.7,876 L1734.4,1049 L1251.7,1051.5" stroke-width="1.7" fill="none" />
<line x1="1297.4" y1="878.7" x2="1297.6" y2="1051.2" stroke-width="1.5" />
<line x1="1460.7" y1="877.5" x2="1461" y2="1050.5" stroke-width="1.5" />
<line x1="1251.7" y1="903" x2="1460.7" y2="902.6" stroke-width="1.5" />
<line x1="1276" y1="903" x2="1276.3" y2="1051.3" stroke-width="1.3" />
<line x1="1310.4" y1="902.8" x2="1310.6" y2="1051.2" stroke-width="1.3" />
<line x1="1378" y1="902.6" x2="1378.2" y2="1050.9" stroke-width="1.3" />
<line x1="1391.3" y1="902.6" x2="1391.3" y2="1026.5" stroke-width="1.3" />
<line x1="1251.7" y1="911.7" x2="1460.7" y2="911.3" stroke-width="1.2" />
<line x1="1251.7" y1="920.4" x2="1460.7" y2="920" stroke-width="1.2" />
<line x1="1251.7" y1="929.1" x2="1460.7" y2="928.7" stroke-width="1.2" />
<line x1="1251.7" y1="937.8" x2="1460.7" y2="937.4" stroke-width="1.2" />
<line x1="1251.7" y1="946.5" x2="1460.7" y2="946.1" stroke-width="1.2" />
<line x1="1251.7" y1="955.2" x2="1460.7" y2="954.8" stroke-width="1.2" />
<line x1="1251.7" y1="963.9" x2="1460.7" y2="963.5" stroke-width="1.2" />
<line x1="1251.7" y1="972.6" x2="1460.7" y2="972.2" stroke-width="1.2" />
<line x1="1251.7" y1="981.3" x2="1460.7" y2="980.9" stroke-width="1.2" />
<line x1="1251.7" y1="990" x2="1460.7" y2="989.6" stroke-width="1.2" />
<line x1="1251.7" y1="998.7" x2="1460.7" y2="998.3" stroke-width="1.2" />
<line x1="1251.7" y1="1007.4" x2="1460.7" y2="1007" stroke-width="1.2" />
<line x1="1251.7" y1="1016.1" x2="1460.7" y2="1015.7" stroke-width="1.2" />
<line x1="1251.7" y1="1024.8" x2="1460.7" y2="1024.4" stroke-width="1.2" />
<line x1="1251.7" y1="1033.5" x2="1378" y2="1033.1" stroke-width="1.2" />
<line x1="1251.7" y1="1042.2" x2="1378" y2="1041.8" stroke-width="1.2" />
<line x1="1378" y1="1026.5" x2="1460.7" y2="1026.2" stroke-width="1.3" />
<text x="1354.6" y="893.2" class="label" font-size="7" stroke="none" fill="#151515" textLength="38.8" lengthAdjust="spacingAndGlyphs" style="font-style:normal">REVISIONS</text>
<line x1="1460.8" y1="958.9" x2="1731.9" y2="957" stroke-width="1.5" />
<line x1="1663" y1="876.8" x2="1663.4" y2="958" stroke-width="1.3" />
<text x="1475.3" y="904" class="plate" font-size="17" stroke="none" fill="#151515" textLength="159" lengthAdjust="spacingAndGlyphs" >155<tspan font-size="7">MM.</tspan> FILLOUX GUN</text>
<text x="1482.5" y="920.5" class="plate" font-size="16.5" stroke="none" fill="#151515" textLength="143.5" lengthAdjust="spacingAndGlyphs" >SIDE·ELEVATION</text>
<text x="1485.2" y="937.4" class="plate" font-size="16.5" stroke="none" fill="#151515" textLength="138.8" lengthAdjust="spacingAndGlyphs" >FIRING  POSITION</text>
<text x="1667.6" y="955.5" class="plate" font-size="10" stroke="none" fill="#151515" textLength="55" lengthAdjust="spacingAndGlyphs" >Jan. 6, 1918</text>
<line x1="1596.3" y1="958.4" x2="1596.5" y2="1025.7" stroke-width="1.3" />
<line x1="1461" y1="991.4" x2="1596.3" y2="990.8" stroke-width="1.3" />
<line x1="1461" y1="1025.9" x2="1732.8" y2="1025.5" stroke-width="1.5" />
<line x1="1596.3" y1="977" x2="1732.2" y2="976.6" stroke-width="1.3" />
<line x1="1629.7" y1="957.8" x2="1629.7" y2="976.8" stroke-width="1.3" />
<line x1="1664" y1="957.8" x2="1664" y2="976.8" stroke-width="1.3" />
<line x1="1697.4" y1="957.8" x2="1697.4" y2="976.8" stroke-width="1.3" />
<line x1="1561" y1="1025.9" x2="1561.2" y2="1049.5" stroke-width="1.3" />
<text x="1554.7" y="964.6" class="label" font-size="5.5" stroke="none" fill="#151515" textLength="35.3" lengthAdjust="spacingAndGlyphs" >SUBMITTED:</text>
<text x="1556.5" y="998.6" class="label" font-size="5.5" stroke="none" fill="#151515" textLength="33.5" lengthAdjust="spacingAndGlyphs" >EXAMINED:</text>
<text x="1469" y="990.3" class="plate" font-size="6.5" stroke="none" fill="#151515" textLength="118" lengthAdjust="spacingAndGlyphs" >First Lieut. Ordnance U.S.R.</text>
<text x="1599" y="984" class="label" font-size="5" stroke="none" fill="#151515" textLength="121" lengthAdjust="spacingAndGlyphs" >APPROVED BY ORDER OF CHIEF ORDNANCE</text>
<text x="1638.7" y="990" class="label" font-size="5" stroke="none" fill="#151515" textLength="44.3" lengthAdjust="spacingAndGlyphs" >OFFICER, A.E.F.</text>
<text x="1600.8" y="1023.2" class="label" font-size="5.6" stroke="none" fill="#151515" textLength="104.7" lengthAdjust="spacingAndGlyphs" >CAPT. ORDNANCE DEPT. U.S.A.</text>
<path d="M1477,968 Q1474,975 1472,981 Q1468,983 1466.5,978.5 Q1470,976 1475,981 M1482,968.5 L1478.5,981 M1487,968 L1484,981 M1479.5,975 L1488,974 M1498,969.5 Q1491,967 1491.5,972 Q1500,975 1496,979.5 Q1490,982 1488,978 M1503.5,967 L1500,981 M1501,976.5 Q1505.5,972 1508,975 L1507,981 M1511,978 Q1518,974 1514,973 Q1508,975.5 1511,981 Q1515,981.5 1518,979 M1521.5,975.5 L1519.5,988 M1521,976 Q1528.5,973 1525.5,980 Q1522.5,981.5 1520.5,979 M1532,975.5 L1530,988 M1531.5,976 Q1539,973 1536,980 Q1533,981.5 1531,979 M1548.5,975 Q1540.5,973.5 1541.5,979 Q1546,981.5 1548.5,975.5 L1548.5,981 M1553,981 Q1552.5,975 1558.5,976 M1571,976 Q1562.5,974.5 1563.5,980 Q1568.5,982.5 1571,977 Q1572.5,969.5 1567.5,968.5 Q1561.5,968 1565,971.5 M1571,980 Q1582,977.5 1596.5,979" stroke-width="1.8" fill="none" />
<path d="M1606,1000 Q1604,1010 1603,1016 M1616,1000 Q1606,1008 1610,1009 Q1614,1012 1616,1016 M1623,1001 Q1618,1008 1619,1015 M1620,1001 L1628,1000 M1618,1008 L1625,1007 M1640,1002 Q1630,1004 1631,1012 Q1638,1014 1641,1004 L1642,1012 M1653,1004 Q1645,1004 1646,1011 Q1652,1013 1654,1003 Q1656,996 1655,1012 M1664,1005 Q1657,1005 1658,1011 Q1664,1012 1665,1005 L1666,1011 M1668,1011 Q1670,1004 1673,1006 Q1674,1011 1676,1005 Q1679,1004 1680,1011 M1683,1008 Q1688,1004 1690,1008 Q1692,1011 1697,1006 Q1703,1004 1704,1009 Q1710,1004 1715,1007" stroke-width="1.5" fill="none" />
<path d="M811.7,530.6 L837.7,568.8" stroke-width="6.6" fill="none" />
<path d="M811.7,530.6 L837.7,568.8" stroke-width="4" fill="none" stroke="#fff"/>
<path d="M816.5,549.4 L839,574.6" stroke-width="6.6" fill="none" />
<path d="M816.5,549.4 L839,574.6" stroke-width="4" fill="none" stroke="#fff"/>
</g>
</svg>
</body></html>
